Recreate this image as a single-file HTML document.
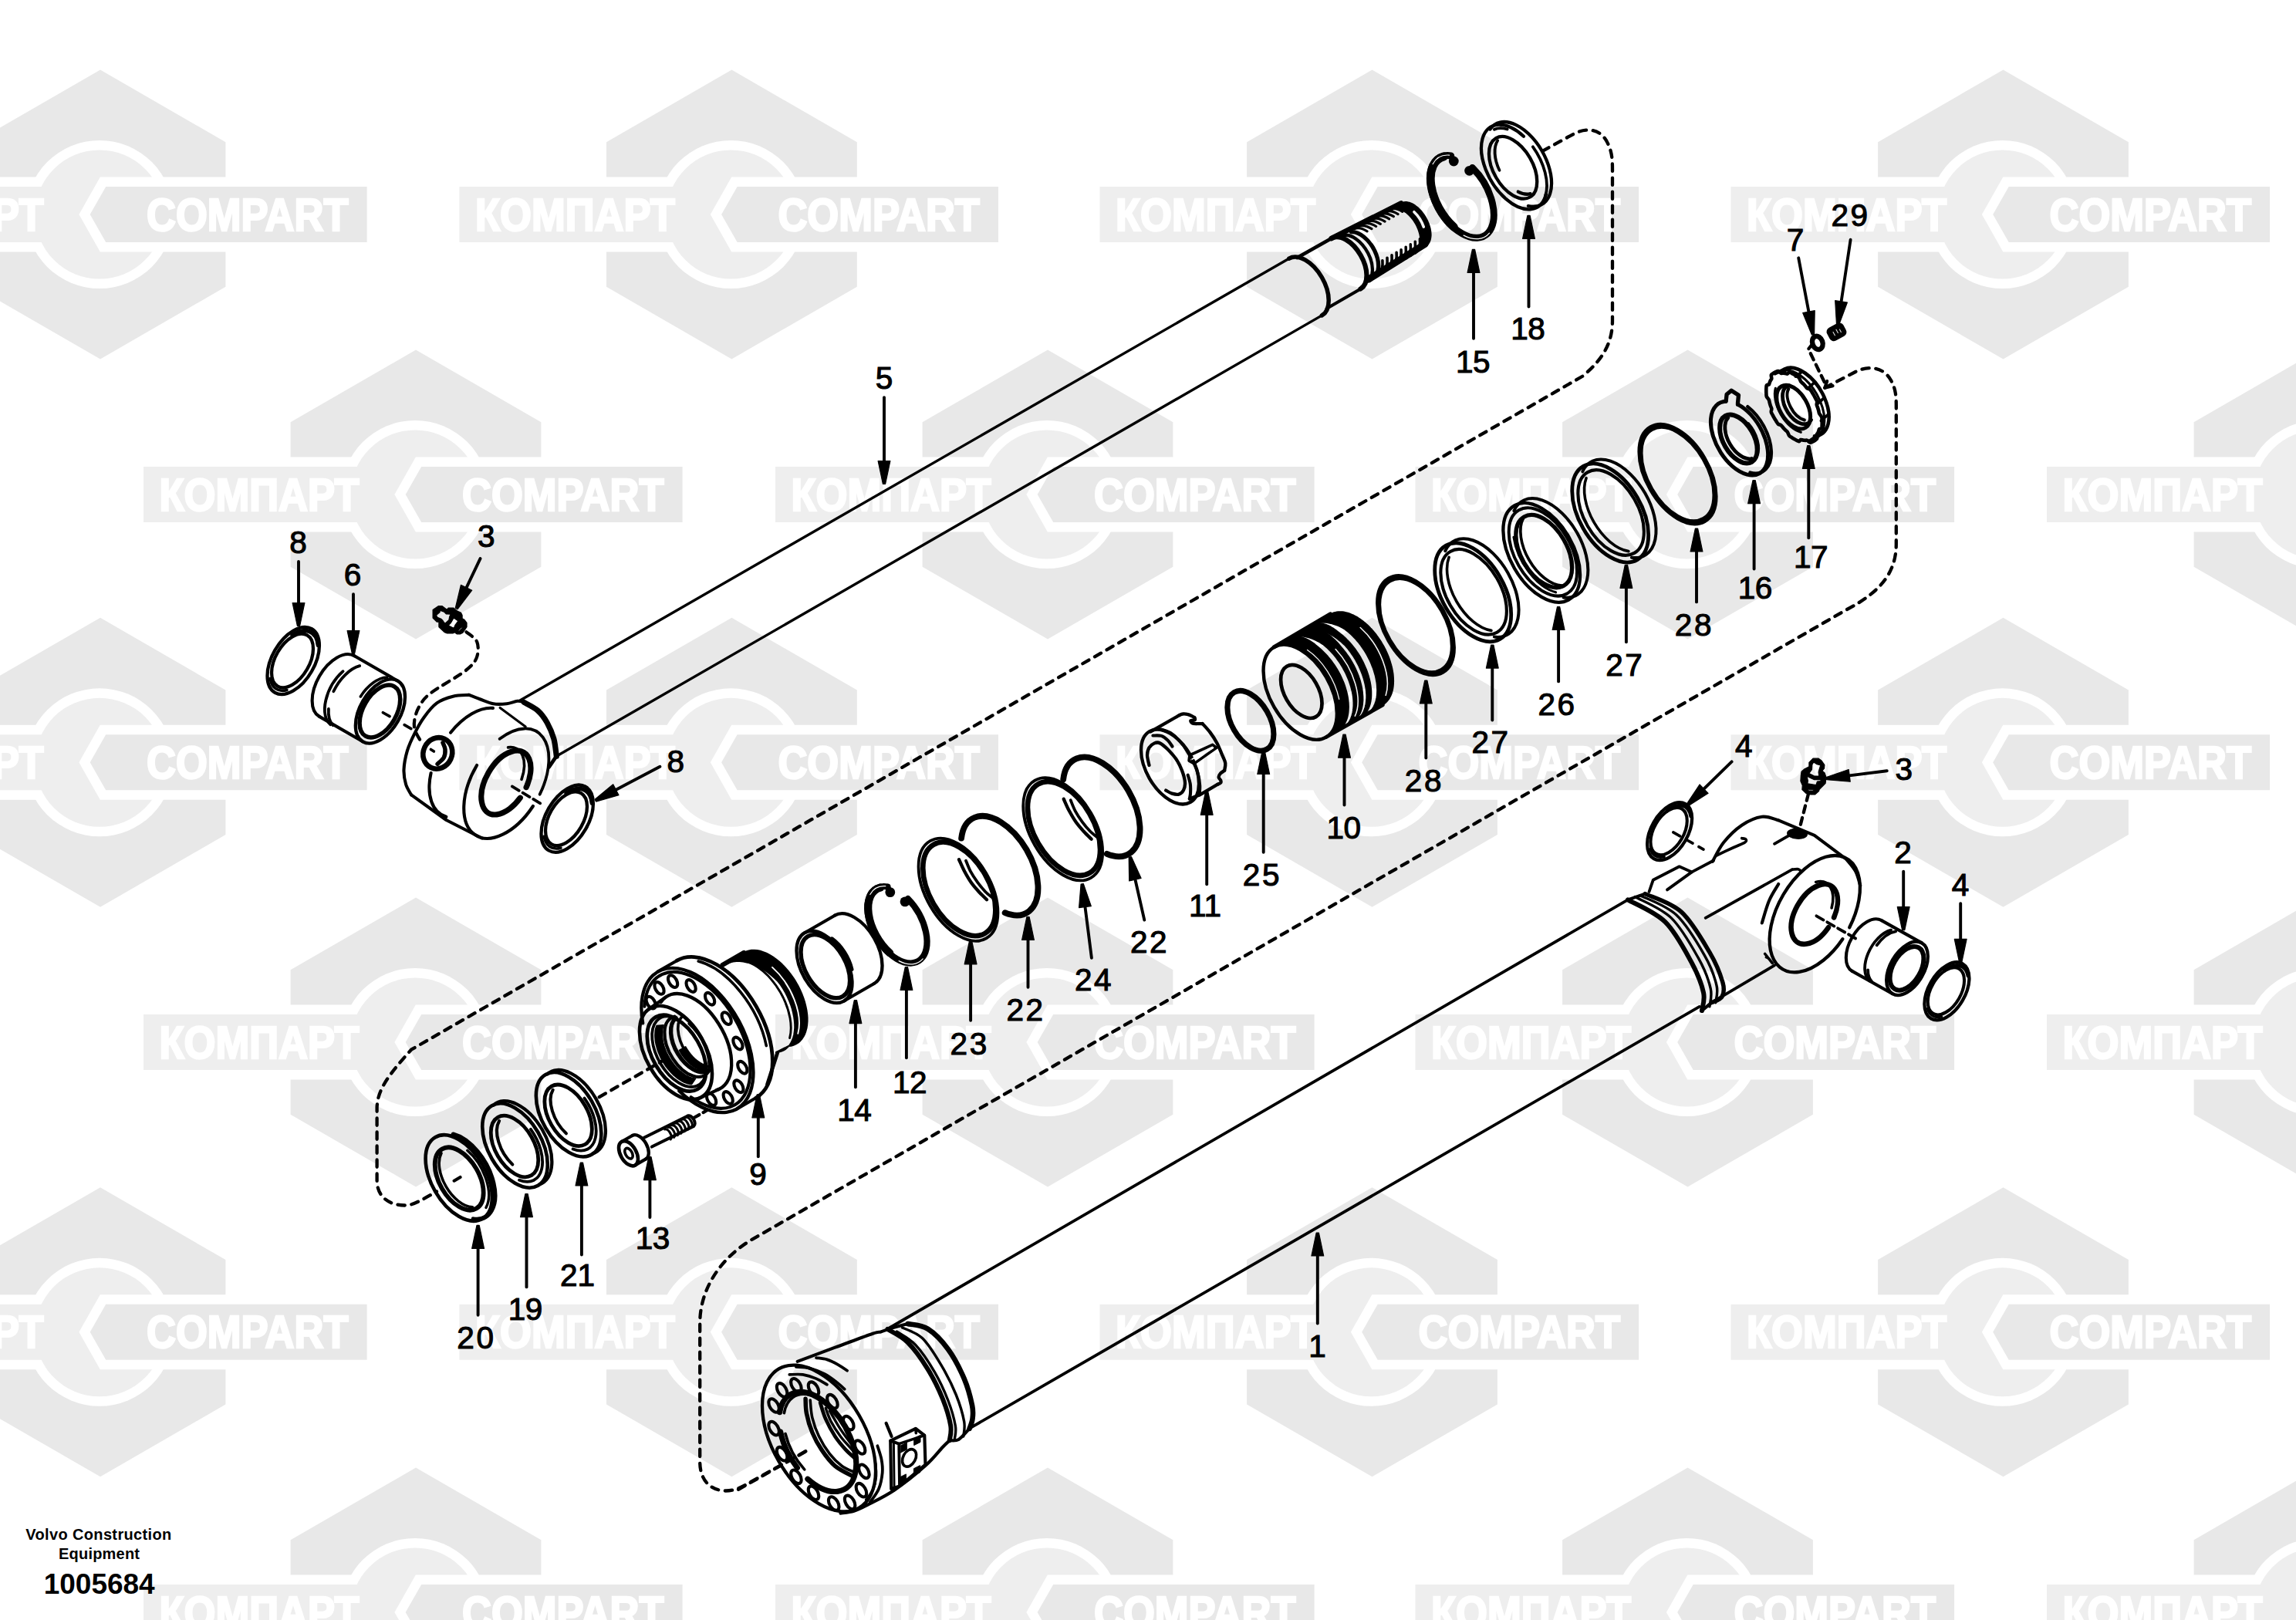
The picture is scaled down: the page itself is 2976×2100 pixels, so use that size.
<!DOCTYPE html>
<html><head><meta charset="utf-8"><title>1005684</title>
<style>
html,body{margin:0;padding:0;background:#fff}
svg{display:block}
.lb{font-family:"Liberation Sans",sans-serif;text-anchor:middle;fill:#000;stroke:#000;stroke-width:1.1px}
.wt{font-family:"Liberation Sans",sans-serif;font-weight:bold;font-size:58.5px;fill:#fff;stroke:#fff;stroke-width:2.6px;stroke-linejoin:miter}
.vt{font-family:"Liberation Sans",sans-serif;font-weight:bold;fill:#000;text-anchor:middle}
#dr path,#dr ellipse{fill:none;stroke:#000;stroke-linecap:round;stroke-linejoin:round}
</style></head><body>
<svg width="2976" height="2100" viewBox="0 0 2976 2100">
<defs>
<g id="wm">
<polygon points="0,-187.5 162.4,-93.75 162.4,93.75 0,187.5 -162.4,93.75 -162.4,-93.75" fill="#e8e8e8"/>
<circle cx="-1" cy="0" r="96" fill="#fff"/>
<rect x="-366" y="-48.5" width="366" height="97" fill="#fff"/>
<circle cx="-1" cy="0" r="83.5" fill="#eee"/>
<rect x="-353" y="-36" width="353" height="72" fill="#eee"/>
<polygon points="-27.6,0 -0.2,-48.5 360,-48.5 360,48.5 -0.2,48.5" fill="#fff"/>
<polygon points="-13.3,0 7.2,-36 345.6,-36 345.6,36 7.2,36" fill="#e8e8e8"/>
<text class="wt" x="-332.5" y="20.5" textLength="259" lengthAdjust="spacingAndGlyphs">КОМПАРТ</text>
<text class="wt" x="60" y="20.5" textLength="261.5" lengthAdjust="spacingAndGlyphs">COMPART</text>
</g>
</defs>
<rect width="2976" height="2100" fill="#fff"/>
<g id="wmk">
<use href="#wm" x="130" y="278"/>
<use href="#wm" x="948.4" y="278"/>
<use href="#wm" x="1778.5" y="278"/>
<use href="#wm" x="2596.5" y="278"/>
<use href="#wm" x="539" y="641"/>
<use href="#wm" x="1358" y="641"/>
<use href="#wm" x="2187.5" y="641"/>
<use href="#wm" x="3006" y="641"/>
<use href="#wm" x="130" y="988.3"/>
<use href="#wm" x="948.4" y="988.3"/>
<use href="#wm" x="1778.5" y="988.3"/>
<use href="#wm" x="2596.5" y="988.3"/>
<use href="#wm" x="539" y="1351"/>
<use href="#wm" x="1358" y="1351"/>
<use href="#wm" x="2187.5" y="1351"/>
<use href="#wm" x="3006" y="1351"/>
<use href="#wm" x="130" y="1726.8"/>
<use href="#wm" x="948.4" y="1726.8"/>
<use href="#wm" x="1778.5" y="1726.8"/>
<use href="#wm" x="2596.5" y="1726.8"/>
<use href="#wm" x="539" y="2090"/>
<use href="#wm" x="1358" y="2090"/>
<use href="#wm" x="2187.5" y="2090"/>
<use href="#wm" x="3006" y="2090"/>
</g>
<g id="dr">
<path d="M1999.3 195.8L2040 173.5C2058 164 2076 168 2084 186C2089 196 2090 205 2090 220L2090 415C2090 440 2082 462 2051.6 487.5L533 1360.7C505 1392 489 1412 488.6 1436L488.6 1530C488.6 1552 505 1562.5 525 1562.5C535 1562.5 545 1556.5 566 1544.6" stroke-width="4.3" stroke-dasharray="9.3 8.7"/>
<path d="M588.6 1530.7L596.6 1526" stroke-width="4.1"/>
<path d="M776.7 1422.1L866 1371" stroke-width="4.3" stroke-dasharray="9.5 8.5"/>
<path d="M2365.2 502.8L2405 482C2425 472 2443 478 2451 493C2456 502 2457.8 510 2457.8 525L2457.8 705C2457.8 740 2440 766 2394 790L975 1606.6C935 1630 907.2 1670 907.2 1715L907.2 1895C907.2 1920 922 1932.5 941 1932.5C950 1932.5 958 1929.5 967 1924.5L1051 1877.5" stroke-width="4.3" stroke-dasharray="9.3 8.7"/>
<path d="M2368.2 494L2365.2 502.8L2375.6 500.2" stroke-width="4.1"/>
<path d="M2350 445L2344 452.5L2367 500" stroke-width="4.3" stroke-dasharray="9 7"/>
<path d="M674 908L1671.5 334.8" stroke-width="3.4"/>
<path d="M721.3 980.2L1713.4 408.9" stroke-width="3.4"/>
<path d="M1713.4 408.9A42.6 24.6 60 0 0 1713.4 359.7A42.6 24.6 60 0 0 1670.8 335.1" stroke-width="5.5"/>
<path d="M1681.5 334L1725.8 308.9" stroke-width="4.6"/>
<path d="M1719.5 400L1763.6 374.4" stroke-width="4.1"/>
<path d="M1763.6 374.4A37.8 21.8 60 0 0 1763.6 330.7A37.8 21.8 60 0 0 1725.8 308.9" stroke-width="6.2"/>
<path d="M1772 364.9A33.8 19.5 60 0 0 1773.1 328A33.8 19.5 60 0 0 1740.7 305.3" stroke-width="4.3"/>
<path d="M1779.8 359.9A33.4 19.3 60 0 0 1781.8 325.2A33.4 19.3 60 0 0 1751.3 300.6" stroke-width="5.3"/>
<path d="M1725.8 308.9L1816 263.5" stroke-width="6.7"/>
<path d="M1773.8 362.1L1847 316.5" stroke-width="9"/>
<path d="M1845.6 320L1847 319.5L1848.3 318.8L1849.5 317.9L1850.6 316.8L1851.6 315.6L1852.4 314.3L1853.1 312.7L1853.7 311.1L1854.1 309.3L1854.4 307.4L1854.6 305.4L1854.6 303.3L1854.4 301.1L1854.1 298.9L1853.7 296.6L1853.1 294.3L1852.4 292L1851.6 289.6L1850.6 287.3L1849.5 285L1848.3 282.7L1847 280.5L1845.6 278.3L1844.1 276.3L1842.6 274.3L1840.9 272.5L1839.2 270.7L1837.5 269.1L1835.7 267.7L1833.9 266.4L1832.1 265.2L1830.3 264.2L1828.5 263.4L1826.7 262.8L1825 262.4L1823.3 262.1L1821.6 262L1820 262.2L1818.5 262.5L1817.1 263L1804.4 270.9L1805.8 270.4L1807.2 270.1L1808.8 270L1810.4 270.1L1812.1 270.3L1813.8 270.8L1815.6 271.4L1817.3 272.2L1819.1 273.1L1820.9 274.3L1822.7 275.5L1824.4 277L1826.1 278.6L1827.8 280.3L1829.4 282.1L1831 284L1832.4 286L1833.8 288.2L1835.1 290.3L1836.3 292.6L1837.3 294.8L1838.3 297.1L1839.1 299.4L1839.8 301.7L1840.4 304L1840.8 306.3L1841.1 308.5L1841.2 310.6L1841.2 312.7L1841.1 314.7L1840.8 316.5L1840.4 318.3L1839.8 319.9L1839.1 321.4L1838.3 322.7L1837.3 323.9L1836.2 325L1835 325.8L1833.8 326.5L1832.4 327Z" style="fill:#000" stroke-width="2"/>
<path d="M1845.3 294.1A29.5 17 60 0 0 1832.9 274.7" stroke-width="3.6" style="stroke:#f4f4f4"/>
<path d="M1772.1 299.8A33.6 19.4 60 0 0 1755.3 296.8" stroke-width="3.2"/>
<path d="M1777.9 296.6A33.5 19.3 60 0 0 1761.1 293.6" stroke-width="3.2"/>
<path d="M1783.6 293.5A33.3 19.2 60 0 0 1766.9 290.5" stroke-width="3.2"/>
<path d="M1789.3 290.3A33.1 19.1 60 0 0 1772.7 287.3" stroke-width="3.2"/>
<path d="M1795 287.1A33 19 60 0 0 1778.5 284.1" stroke-width="3.2"/>
<path d="M1800.7 283.9A32.9 19 60 0 0 1784.2 281" stroke-width="3.2"/>
<path d="M1806.4 280.7A32.7 18.9 60 0 0 1790 277.8" stroke-width="3.2"/>
<path d="M1812.1 277.6A32.6 18.8 60 0 0 1795.8 274.6" stroke-width="3.2"/>
<path d="M1817.8 274.4A32.4 18.7 60 0 0 1801.6 271.5" stroke-width="3.2"/>
<path d="M1786.1 355.8A33 19 60 0 0 1791.9 337.8" stroke-width="3.6"/>
<path d="M1792.1 352.3A33 19 60 0 0 1798 334.3" stroke-width="3.6"/>
<path d="M1798.2 348.8A33 19 60 0 0 1804 330.8" stroke-width="3.6"/>
<path d="M1804.3 345.3A33 19 60 0 0 1810.1 327.3" stroke-width="3.6"/>
<path d="M1810.3 341.8A33 19 60 0 0 1816.1 323.8" stroke-width="3.6"/>
<path d="M1816.4 338.3A33 19 60 0 0 1822.2 320.3" stroke-width="3.6"/>
<path d="M1822.5 334.8A33 19 60 0 0 1828.3 316.8" stroke-width="3.6"/>
<path d="M1828.5 331.3A33 19 60 0 0 1834.3 313.3" stroke-width="3.6"/>
<path d="M1834.6 327.8A33 19 60 0 0 1840.4 309.8" stroke-width="3.6"/>
<path d="M690.9 1045A77.9 44.9 -60 0 1 615 1081.6A77.9 44.9 -60 0 1 618.1 992" stroke-width="4.1"/>
<path d="M647.7 957.8A77.9 44.9 -60 0 1 703.8 955.9A77.9 44.9 -60 0 1 699.7 1029.7" stroke-width="3.8"/>
<path d="M674.3 1034.2A45.3 26.1 -60 0 1 624.5 1040.1A45.3 26.1 -60 0 1 662.4 974.5A45.3 26.1 -60 0 1 682.1 1020.6" stroke-width="7.2"/>
<path d="M658.5 968.9A45.3 26.1 -60 0 1 676 1010.3" stroke-width="3.6"/>
<path d="M584 949.7A77.9 44.9 -60 0 1 639 917.9" stroke-width="4.1"/>
<path d="M578.3 1058.8A77.9 44.9 -60 0 1 558.6 1002" stroke-width="4.1"/>
<path d="M608 900.9C604.5 901.2 594.1 900.9 587.1 902.7C580.1 904.4 572.4 906.9 566.2 911.4C560 915.9 554.4 923.2 549.7 929.7C544.9 936.2 541.1 943.3 537.5 950.6C533.8 957.9 530.2 965.4 527.9 973.2C525.6 981.1 523.8 990.4 523.5 997.6C523.2 1004.9 524.5 1011.3 526.1 1016.8C527.7 1022.3 531.9 1028.1 533.1 1030.4" stroke-width="4.1"/>
<path d="M533.1 1030.4L578.4 1063L624.6 1086.5" stroke-width="4.1"/>
<path d="M608 900.9C610.3 901.8 616.7 904.3 622 906.2C627.2 908.1 633.6 911.2 639.4 912.3C645.2 913.3 651.6 912.8 656.8 912.3C662 911.7 667 909.1 670.7 908.8C674.5 908.5 678 910.2 679.4 910.5" stroke-width="4.1"/>
<path d="M679.4 910.5C682.3 912.3 691.9 916.6 696.9 921C701.8 925.3 705.6 930.6 709.1 936.7C712.5 942.8 715.7 950.3 717.8 957.6C719.8 964.8 720.7 976.4 721.3 980.2" stroke-width="7.2"/>
<path d="M721.3 980.2L711.7 994.1" stroke-width="4.8"/>
<path d="M648.1 917.5L681.2 941.9" stroke-width="3.1"/>
<ellipse cx="567.3" cy="976.4" rx="18.6" ry="20.6" transform="rotate(25 567.3 976.4)" stroke-width="6.6"/>
<path d="M574 962.8C574.5 964.2 576.8 968.3 577 971.5C577.2 974.7 576.9 978.8 575.3 982C573.6 985.1 568.4 988.9 567.1 990.3" stroke-width="5.5"/>
<path d="M558.4 971.5L562.4 974.1" stroke-width="3.6"/>
<path d="M663.8 1019.4L703.5 1043.3" stroke-width="3.8" stroke-dasharray="10.5 5.5"/>
<ellipse cx="735.2" cy="1061.2" rx="47.7" ry="27.5" transform="rotate(-60 735.2 1061.2)" stroke-width="4.3"/>
<ellipse cx="734" cy="1061.2" rx="38.2" ry="22" transform="rotate(-60 734 1061.2)" stroke-width="4.3"/>
<path d="M734 1028.2A43.5 25.1 -60 0 1 767.3 1041.2" stroke-width="5.4"/>
<path d="M726.9 1099.2A42.5 24.5 -60 0 1 705.1 1084.3" stroke-width="3.6"/>
<ellipse cx="492.9" cy="922" rx="45.4" ry="26.2" transform="rotate(-60 492.9 922)" stroke-width="4.3"/>
<ellipse cx="492.4" cy="922" rx="37.2" ry="21.5" transform="rotate(-60 492.4 922)" stroke-width="5.5"/>
<path d="M414 928.9A45.4 26.2 -60 0 1 414 876.5A45.4 26.2 -60 0 1 459.4 850.3" stroke-width="4.1"/>
<path d="M459.4 850.3L515.6 882.7" stroke-width="4.1"/>
<path d="M414 928.9L470.2 961.3" stroke-width="4.1"/>
<path d="M428.3 939.2A45.4 26.2 -60 0 1 444.6 870.2" stroke-width="3.8"/>
<path d="M431.6 940.2A45.4 26.2 -60 0 1 425.9 919" stroke-width="3.8"/>
<path d="M432.3 896.3A45.4 26.2 -60 0 1 466.2 863.2" stroke-width="3.8"/>
<path d="M467.3 902.9A45.4 26.2 -60 0 1 501.5 878" stroke-width="3.6"/>
<path d="M496.4 923.7L537 947" stroke-width="3.6" stroke-dasharray="10 22"/>
<ellipse cx="380.2" cy="856.5" rx="47.7" ry="27.5" transform="rotate(-60 380.2 856.5)" stroke-width="4.3"/>
<ellipse cx="379" cy="856.5" rx="38.2" ry="22" transform="rotate(-60 379 856.5)" stroke-width="4.3"/>
<path d="M379 823.5A43.5 25.1 -60 0 1 412.3 836.5" stroke-width="5.4"/>
<path d="M371.9 894.5A42.5 24.5 -60 0 1 350.1 879.6" stroke-width="3.6"/>
<path d="M561.1 790.4L568.1 785.7L573.2 785.7L579.5 790.4L581.1 788L587.7 788L593.2 792.4L597.5 794.3L599.1 797.5L599.1 801.8L601.9 803.3L605 807.3L605 812.7L599.9 820.2L596.8 821.8L592.1 821.8L589.3 819.8L587 821L579.5 821L576.4 819.8L568.9 812.7L568.9 806.1L566.2 806.1L561.1 801ZM570.1 791.2L575.6 793.1L578.3 795.9L584.2 796.1L582.6 799.8L581.9 803.7L578.3 806.9L576.4 808L574 804.5L571.7 802.2L567 800.2L565.4 797.5L570.1 793.5ZM588.1 801L594 804.9L590.1 810L588.5 813.9L587 813.9L581.1 810.8L584.2 807.6ZM593.2 817.8L599.1 812L599.1 814.3L595.2 818.2Z" style="fill:#000;fill-rule:evenodd" stroke-width="1.2"/>
<path d="M604.4 819.2C606.7 821.4 616.1 826.6 618.3 832.3C620.5 837.9 620.2 846.8 617.5 853.2C614.7 859.6 611.6 863 601.8 870.6C591.9 878.1 568 890.9 558.2 898.5C548.5 906 546.9 910.1 543.4 915.9C539.9 921.7 538.2 928.1 537.3 933.3C536.4 938.5 536.4 942 538.2 947.2C539.9 952.5 546.2 961.8 547.8 964.7" stroke-width="4.2" stroke-dasharray="9.5 8"/>
<path d="M1150 1723L2110 1166.4" stroke-width="3.8"/>
<path d="M1256.6 1851.6L2202.8 1304.9" stroke-width="3.8"/>
<path d="M1974.9 176.7A60.1 34.7 60 0 0 1921.6 179.5A60.1 34.7 60 0 0 1952 257.9A60.1 34.7 60 0 0 2003.9 251.4" stroke-width="4.3"/>
<path d="M1981 267A60.1 34.7 60 0 0 2001.6 201.1A60.1 34.7 60 0 0 1931.4 167.6" stroke-width="4.3"/>
<path d="M2003.1 254.2A60.1 34.7 60 0 0 1986.9 190.3" stroke-width="3.8"/>
<path d="M1953.7 167.5A55.1 31.8 60 0 0 1936.9 167.7" stroke-width="3.8"/>
<ellipse cx="1961.1" cy="217.3" rx="44.1" ry="25.4" transform="rotate(60 1961.1 217.3)" stroke-width="4.3"/>
<path d="M1941.2 182.2A42 24.2 60 0 0 1943.5 220.7" stroke-width="3.8"/>
<path d="M1967.8 248.6A41 23.7 60 0 0 1983.7 251.1" stroke-width="4.3"/>
<path d="M1880.7 201.9A58.5 33.8 60 0 0 1861.9 264.6A58.5 33.8 60 0 0 1928.4 302.3A58.5 33.8 60 0 0 1908.4 217.5" stroke-width="8.9"/>
<path d="M1871.6 203A57.5 33.2 60 0 0 1854.9 239.9A57.5 33.2 60 0 0 1884.4 294.2" stroke-width="10.8"/>
<circle cx="1884.3" cy="209" r="6.4" style="fill:#000" stroke-width="1"/>
<circle cx="1904.6" cy="221.3" r="6.4" style="fill:#000" stroke-width="1"/>
<path d="M1880.7 201.9L1884.3 209" stroke-width="7.7"/>
<path d="M1908.4 217.5L1904.6 221.3" stroke-width="7.7"/>
<path d="M1897.1 305.1A60 34.6 60 0 0 1930.5 302.1" stroke-width="1.2" style="stroke:#fff"/>
<path d="M1878.6 201.1A59 34 60 0 0 1857.1 212.7" stroke-width="1.2" style="stroke:#fff"/>
<path d="M2351.1 571.7C2351.9 571.2 2352.6 570.8 2353.3 570.2C2353.9 569.7 2354.9 569.5 2355.2 568.4C2355.4 567.3 2354.6 564.9 2354.7 563.7C2354.9 562.5 2355.7 562.2 2356.1 561.5C2356.5 560.7 2356.9 559.8 2357.2 559C2357.6 558.1 2357.5 556.9 2358.1 556.2C2358.8 555.6 2360.6 555.9 2361.2 555.2C2361.7 554.4 2361.5 552.9 2361.6 551.8C2361.7 550.6 2361.7 549.4 2361.7 548.2C2361.7 547 2361.7 545.8 2361.6 544.5C2361.5 543.2 2361.7 542 2361.2 540.6C2360.6 539.2 2358.8 537.4 2358.1 536C2357.5 534.7 2357.6 533.6 2357.2 532.3C2356.9 531 2356.5 529.8 2356.1 528.5C2355.7 527.2 2354.9 526 2354.7 524.7C2354.6 523.4 2355.4 521.8 2355.2 520.4C2354.9 519.1 2353.9 517.8 2353.2 516.4C2352.6 515.1 2351.8 513.8 2351.1 512.5C2350.4 511.2 2349.6 510 2348.8 508.7C2348 507.5 2347.3 505.9 2346.3 505C2345.2 504.1 2343.5 504.1 2342.4 503.3C2341.3 502.5 2340.7 501.2 2339.8 500.2C2338.9 499.2 2338 498.2 2337 497.3C2336.1 496.4 2335.1 495.9 2334.2 494.7C2333.4 493.4 2332.7 490.9 2331.8 489.7C2330.8 488.5 2329.7 488.2 2328.6 487.5C2327.6 486.7 2326.5 486.1 2325.5 485.5C2324.4 484.9 2323.4 484.3 2322.3 483.8C2321.3 483.3 2320.1 482.3 2319.2 482.5C2318.3 482.6 2317.6 484.3 2316.8 484.6C2315.9 484.8 2314.9 484.1 2313.9 484C2313 483.8 2312.1 483.7 2311.2 483.7C2310.3 483.7 2309.7 484.2 2308.6 483.8C2307.5 483.3 2305.8 481.4 2304.7 481C2303.7 480.7 2303 481.5 2302.2 481.8C2301.4 482.1 2300.6 482.5 2299.9 482.9C2299.1 483.4 2298.4 483.8 2297.7 484.4C2297.1 484.9 2296.1 485.1 2295.8 486.2C2295.6 487.3 2296.4 489.7 2296.3 490.9C2296.1 492.1 2295.3 492.4 2294.9 493.1C2294.5 493.9 2294.1 494.8 2293.8 495.6C2293.4 496.5 2293.5 497.7 2292.9 498.4C2292.2 499 2290.4 498.7 2289.8 499.4C2289.3 500.2 2289.5 501.7 2289.4 502.8C2289.3 504 2289.3 505.2 2289.3 506.4C2289.3 507.6 2289.3 508.8 2289.4 510.1C2289.5 511.4 2289.3 512.6 2289.8 514C2290.4 515.4 2292.2 517.2 2292.9 518.6C2293.5 519.9 2293.4 521 2293.8 522.3C2294.1 523.6 2294.5 524.8 2294.9 526.1C2295.3 527.4 2296.1 528.6 2296.3 529.9C2296.4 531.2 2295.6 532.8 2295.8 534.2C2296.1 535.5 2297.1 536.8 2297.8 538.2C2298.4 539.5 2299.2 540.8 2299.9 542.1C2300.6 543.4 2301.4 544.6 2302.2 545.9C2303 547.1 2303.7 548.7 2304.7 549.6C2305.8 550.5 2307.5 550.5 2308.6 551.3C2309.7 552.1 2310.3 553.4 2311.2 554.4C2312.1 555.4 2313 556.4 2314 557.3C2314.9 558.2 2315.9 558.7 2316.8 559.9C2317.6 561.2 2318.3 563.7 2319.2 564.9C2320.2 566.1 2321.3 566.4 2322.4 567.1C2323.4 567.9 2324.5 568.5 2325.5 569.1C2326.6 569.7 2327.6 570.3 2328.7 570.8C2329.7 571.3 2330.9 572.3 2331.8 572.1C2332.7 572 2333.4 570.3 2334.2 570C2335.1 569.8 2336.1 570.5 2337.1 570.6C2338 570.8 2338.9 570.9 2339.8 570.9C2340.7 570.9 2341.3 570.4 2342.4 570.8C2343.5 571.3 2345.2 573.2 2346.3 573.6C2347.3 573.9 2348 573.1 2348.8 572.8C2349.6 572.5 2350.4 572.1 2351.1 571.7Z" stroke-width="4.6"/>
<path d="M2351.9 565.3A48.5 28 60 0 0 2364.4 514.6A48.5 28 60 0 0 2312.9 478.6" stroke-width="4.6"/>
<path d="M2300.8 484.4L2312.1 479" stroke-width="4.3"/>
<path d="M2344.6 572.2L2355 565" stroke-width="4.3"/>
<path d="M2357.2 562.7L2368.1 554.2" stroke-width="3.8"/>
<path d="M2360.4 545.4L2370.4 536.6" stroke-width="3.8"/>
<path d="M2355.5 523.8L2364.7 515.3" stroke-width="3.8"/>
<path d="M2343.5 503.1L2352.4 495.4" stroke-width="3.8"/>
<path d="M2327.3 488L2336.3 481.5" stroke-width="3.8"/>
<path d="M2310.7 482.1L2320.2 476.8" stroke-width="3.8"/>
<path d="M2356.6 566.3A49.5 28.6 60 0 0 2355.6 512.4A49.5 28.6 60 0 0 2309.8 480.1" stroke-width="3.1"/>
<ellipse cx="2324.7" cy="527.6" rx="31" ry="17.9" transform="rotate(60 2324.7 527.6)" stroke-width="5"/>
<path d="M2318.7 499.8A27.5 15.9 60 0 0 2317.4 534.6A27.5 15.9 60 0 0 2347.5 544.3" stroke-width="4.8"/>
<path d="M2318.2 504.2A25 14.4 60 0 0 2320.7 527.4A25 14.4 60 0 0 2338.8 544.5" stroke-width="4.1"/>
<path d="M2301.3 503.3A38 21.9 60 0 0 2334.2 560.3" stroke-width="3.1"/>
<ellipse cx="2355.8" cy="444.4" rx="6.6" ry="8.8" transform="rotate(-20 2355.8 444.4)" stroke-width="6.4"/>
<g transform="translate(2380.5 430.3) rotate(-28)">
<rect x="-12" y="-9.5" width="24" height="19" rx="6" style="fill:#000" stroke-width="3"/>
<path d="M-4 -2L-4 3M1 -3L1 2M5 -1L5 3" stroke-width="1.1" style="stroke:#ddd"/>
</g>
<path d="M2237.1 520.2A52.5 30.3 60 0 0 2230.5 586.9A52.5 30.3 60 0 0 2289.7 602.1A52.5 30.3 60 0 0 2252.5 524.2" stroke-width="5"/>
<path d="M2237.1 520.2L2238.1 511.2L2244.1 506.2L2253.5 512.2L2252.5 522.2L2252.5 524.2" stroke-width="5.3"/>
<path d="M2268.4 612.5A52.5 30.3 60 0 0 2295.9 585.1A52.5 30.3 60 0 0 2265.3 527.1" stroke-width="4.3"/>
<ellipse cx="2253.4" cy="569" rx="34.4" ry="19.8" transform="rotate(60 2253.4 569)" stroke-width="6"/>
<path d="M2239.8 541.6A31 17.9 60 0 0 2242.2 575.4A31 17.9 60 0 0 2270.3 594.5" stroke-width="4.8"/>
<path d="M2277.1 591.1A33 19 60 0 0 2265.9 548.8" stroke-width="3.6"/>
<ellipse cx="2174.5" cy="614.6" rx="70.6" ry="40.7" transform="rotate(60 2174.5 614.6)" stroke-width="4.4"/>
<ellipse cx="2174.5" cy="614.6" rx="66.2" ry="38.2" transform="rotate(60 2174.5 614.6)" stroke-width="3.7"/>
<path d="M2170.3 556.5A68.4 39.5 60 0 0 2134.9 623.7" stroke-width="4.1"/>
<path d="M2191.1 676.6A68.4 39.5 60 0 0 2221.2 627.1" stroke-width="4.1"/>
<ellipse cx="2087.2" cy="665" rx="70" ry="40.4" transform="rotate(60 2087.2 665)" stroke-width="4.8"/>
<path d="M2114.9 722.8A70 40.4 60 0 0 2132.4 639.6A70 40.4 60 0 0 2051.3 611.3" stroke-width="4"/>
<ellipse cx="2088.1" cy="664.5" rx="60.5" ry="34.9" transform="rotate(60 2088.1 664.5)" stroke-width="4.1"/>
<path d="M2056.1 619.6A60.5 34.9 60 0 0 2066.1 677.2A60.5 34.9 60 0 0 2110.9 714.6" stroke-width="3.6"/>
<ellipse cx="1998.2" cy="716.4" rx="70.5" ry="40.7" transform="rotate(60 1998.2 716.4)" stroke-width="4.3"/>
<path d="M2026.5 774.4A70.5 40.7 60 0 0 2044.1 690.6A70.5 40.7 60 0 0 1962.4 662.1" stroke-width="4"/>
<ellipse cx="1999.9" cy="715.4" rx="62.5" ry="36.1" transform="rotate(60 1999.9 715.4)" stroke-width="4"/>
<ellipse cx="2001.2" cy="714.6" rx="51.5" ry="29.7" transform="rotate(60 2001.2 714.6)" stroke-width="5.3"/>
<path d="M1974.3 672.1A53.5 30.9 60 0 0 1981.9 725.8A53.5 30.9 60 0 0 2024.6 759.2" stroke-width="3.7"/>
<path d="M1962 696.2A62 35.8 60 0 0 2016.5 767.8" stroke-width="3.1"/>
<ellipse cx="1909.2" cy="767.8" rx="70" ry="40.4" transform="rotate(60 1909.2 767.8)" stroke-width="4.8"/>
<path d="M1936.9 825.6A70 40.4 60 0 0 1954.4 742.4A70 40.4 60 0 0 1873.3 714.1" stroke-width="4"/>
<ellipse cx="1910.1" cy="767.3" rx="60.5" ry="34.9" transform="rotate(60 1910.1 767.3)" stroke-width="4.1"/>
<path d="M1878.1 722.4A60.5 34.9 60 0 0 1888.1 780A60.5 34.9 60 0 0 1932.9 817.4" stroke-width="3.6"/>
<ellipse cx="1835" cy="810.6" rx="70.4" ry="40.6" transform="rotate(60 1835 810.6)" stroke-width="4.4"/>
<ellipse cx="1835" cy="810.6" rx="66" ry="38.1" transform="rotate(60 1835 810.6)" stroke-width="3.7"/>
<path d="M1830.8 752.7A68.2 39.4 60 0 0 1795.5 819.8" stroke-width="4.1"/>
<path d="M1851.5 872.5A68.2 39.4 60 0 0 1881.6 823.1" stroke-width="4.1"/>
<ellipse cx="1685.2" cy="897.2" rx="67.4" ry="38.9" transform="rotate(60 1685.2 897.2)" stroke-width="4.4"/>
<ellipse cx="1686.8" cy="896.4" rx="37.8" ry="21.8" transform="rotate(60 1686.8 896.4)" stroke-width="4.7"/>
<path d="M1651.5 838.8L1724.3 796.1" stroke-width="5.3"/>
<path d="M1718.9 955.5L1792.3 913.9" stroke-width="4.8"/>
<path d="M1731 948.8L1732.5 948.2L1734 947.4L1735.5 946.5L1736.9 945.4L1738.2 944.3L1739.4 943.1L1740.6 941.7L1741.7 940.3L1742.7 938.8L1743.6 937.1L1744.4 935.4L1745.2 933.6L1745.9 931.7L1746.5 929.7L1747 927.6L1747.4 925.5L1747.7 923.3L1747.9 921L1748 918.7L1748.1 916.3L1748 913.8L1747.9 911.4L1747.7 908.8L1747.4 906.2L1747 903.6L1746.5 901L1745.9 898.3L1745.2 895.7L1744.4 893L1743.6 890.3L1742.7 887.6L1741.7 884.9L1740.6 882.2L1739.4 879.5L1738.2 876.8L1736.9 874.2L1735.5 871.6L1734 869L1732.5 866.4L1730.9 863.9L1729.3 861.5L1727.6 859.1L1725.9 856.7L1724.1 854.4L1722.2 852.2L1720.4 850L1718.5 848L1716.5 846L1714.5 844L1712.5 842.2L1710.5 840.4L1708.5 838.7L1706.6 837.1L1704.7 835.5L1702.8 834L1700.9 832.7L1699 831.4L1697.1 830.2L1695.2 829.2L1693.3 828.3L1691.4 827.4L1689.6 826.7L1687.8 826.1L1686 825.7L1684.2 825.3L1682.5 825.1L1680.8 824.9L1679.1 824.9L1677.4 825.1L1675.7 825.5L1674 825.9L1672.3 826.5L1670.8 827.2L1669.3 828L1667.8 828.9L1666.4 829.9L1649.3 839.8L1650.7 838.8L1652.1 837.9L1653.6 837.1L1655.2 836.4L1656.8 835.8L1658.5 835.4L1660.3 835L1662.1 834.8L1663.9 834.7L1665.8 834.7L1667.7 834.8L1669.6 835.1L1671.6 835.5L1673.6 835.9L1675.7 836.5L1677.7 837.3L1679.8 838.1L1681.9 839L1684 840.1L1686.1 841.2L1688.1 842.5L1690.2 843.9L1692.3 845.3L1694.4 846.9L1696.4 848.5L1698.5 850.3L1700.5 852.1L1702.5 854.1L1704.4 856.1L1706.3 858.1L1708.2 860.3L1710.1 862.5L1711.8 864.8L1713.6 867.2L1715.3 869.6L1716.9 872L1718.5 874.5L1720 877.1L1721.4 879.7L1722.8 882.3L1724.1 884.9L1725.4 887.6L1726.5 890.3L1727.6 893L1728.6 895.7L1729.6 898.4L1730.4 901.1L1731.2 903.8L1731.8 906.4L1732.4 909.1L1732.9 911.7L1733.3 914.3L1733.7 916.9L1733.9 919.5L1734 921.9L1734.1 924.4L1734 926.8L1733.9 929.1L1733.7 931.4L1733.3 933.6L1732.9 935.7L1732.4 937.8L1731.8 939.8L1731.2 941.7L1730.4 943.5L1729.6 945.2L1728.6 946.9L1727.6 948.4L1726.6 949.8L1725.4 951.2L1724.2 952.4L1722.8 953.5L1721.5 954.6L1720 955.5L1718.5 956.3L1716.9 956.9Z" style="fill:#000" stroke-width="1.6"/>
<path d="M1749.5 938.1L1751.1 937.5L1752.6 936.7L1754 935.8L1755.4 934.7L1756.7 933.6L1758 932.4L1759.1 931L1760.2 929.6L1761.2 928.1L1762.1 926.4L1763 924.7L1763.7 922.9L1764.4 921L1765 919L1765.5 916.9L1765.9 914.8L1766.2 912.6L1766.4 910.3L1766.6 908L1766.6 905.6L1766.6 903.1L1766.4 900.7L1766.2 898.1L1765.9 895.5L1765.5 892.9L1765 890.3L1764.4 887.6L1763.7 885L1763 882.3L1762.1 879.6L1761.2 876.9L1760.2 874.2L1759.1 871.5L1757.9 868.8L1756.7 866.1L1755.4 863.5L1754 860.9L1752.6 858.3L1751 855.7L1749.5 853.2L1747.8 850.8L1746.1 848.4L1744.4 846L1742.6 843.7L1740.8 841.5L1738.9 839.3L1737.2 837.2L1735.4 835.1L1733.6 833L1731.7 831.1L1729.9 829.2L1728 827.5L1726.1 825.8L1724.2 824.2L1722.3 822.8L1720.4 821.4L1718.5 820.2L1716.5 819L1714.6 818L1712.5 817.2L1710.5 816.4L1708.4 815.8L1706.4 815.4L1704.5 815L1702.5 814.7L1700.6 814.6L1698.7 814.6L1696.9 814.7L1695.1 814.9L1693.3 815.3L1691.6 815.7L1690 816.3L1688.4 817L1686.9 817.8L1685.5 818.7L1684.1 819.7L1666.4 829.9L1667.8 828.9L1669.3 828L1670.8 827.2L1672.3 826.5L1674 825.9L1675.7 825.5L1677.4 825.1L1679.3 824.9L1681.3 824.6L1683.4 824.5L1685.5 824.6L1687.6 824.7L1689.8 825L1692 825.4L1694.2 825.9L1696.4 826.5L1698.7 827.2L1700.9 828L1703.2 829L1705.5 830L1707.8 831.2L1710.1 832.4L1712.3 833.8L1714.6 835.2L1716.7 836.8L1718.7 838.6L1720.8 840.4L1722.7 842.4L1724.7 844.4L1726.6 846.4L1728.5 848.6L1730.3 850.8L1732.1 853.1L1733.8 855.5L1735.5 857.9L1737.2 860.3L1738.7 862.8L1740.3 865.4L1741.7 868L1743.1 870.6L1744.4 873.2L1745.6 875.9L1746.8 878.6L1747.9 881.3L1748.9 884L1749.8 886.7L1750.7 889.4L1751.4 892.1L1752.1 894.7L1752.7 897.4L1753.2 900L1753.6 902.6L1753.9 905.2L1754.1 907.8L1754.3 910.2L1754.3 912.7L1754.3 915.1L1754.1 917.4L1753.9 919.7L1753.6 921.9L1753.2 924L1752.7 926.1L1752.1 928.1L1751.4 930L1750.7 931.8L1749.8 933.5L1748.9 935.2L1747.9 936.7L1746.8 938.1L1745.7 939.5L1744.4 940.7L1743.1 941.8L1741.7 942.9L1740.3 943.8L1738.8 944.6L1737.2 945.2Z" style="fill:#000" stroke-width="1.6"/>
<path d="M1760.4 931.8L1762 931.2L1763.5 930.4L1764.9 929.5L1766.3 928.4L1767.6 927.3L1768.9 926.1L1770 924.7L1771.1 923.3L1772.1 921.8L1773 920.1L1773.9 918.4L1774.6 916.6L1775.3 914.7L1775.9 912.7L1776.4 910.6L1776.8 908.5L1777.1 906.3L1777.4 904L1777.5 901.7L1777.5 899.3L1777.5 896.8L1777.4 894.4L1777.1 891.8L1776.8 889.2L1776.4 886.6L1775.9 884L1775.3 881.3L1774.6 878.7L1773.9 876L1773 873.3L1772.1 870.6L1771.1 867.9L1770 865.2L1768.8 862.5L1767.6 859.8L1766.3 857.2L1764.9 854.6L1763.5 852L1762 849.4L1760.4 846.9L1758.7 844.5L1757.1 842.1L1755.3 839.7L1753.5 837.4L1751.7 835.2L1749.8 833L1747.9 831L1745.9 829L1744 827L1741.9 825.2L1739.9 823.4L1737.9 821.8L1735.8 820.2L1733.8 818.7L1731.9 817.2L1730.1 815.8L1728.2 814.5L1726.3 813.4L1724.5 812.3L1722.6 811.3L1720.8 810.5L1719 809.8L1717.2 809.2L1715.4 808.7L1713.7 808.3L1712 808L1710.3 807.9L1708.7 807.9L1707.2 807.9L1705.6 808.2L1704 808.6L1702.4 809.1L1700.8 809.8L1699.3 810.6L1697.9 811.5L1696.5 812.5L1684.1 819.7L1685.5 818.7L1686.9 817.8L1688.4 817L1690 816.3L1691.6 815.7L1693.3 815.3L1695.1 814.9L1696.9 814.7L1698.7 814.6L1700.6 814.6L1702.5 814.7L1704.5 815L1706.4 815.4L1708.4 815.8L1710.5 816.4L1712.5 817.2L1714.6 818L1716.8 818.8L1719.1 819.8L1721.4 820.8L1723.6 822L1725.9 823.3L1728.2 824.6L1730.4 826.1L1732.6 827.7L1734.8 829.3L1737 831L1739.2 832.9L1741.3 834.8L1743.4 836.7L1745.3 838.9L1747.1 841.1L1748.9 843.4L1750.7 845.8L1752.3 848.2L1754 850.6L1755.5 853.1L1757.1 855.7L1758.5 858.3L1759.9 860.9L1761.2 863.5L1762.4 866.2L1763.6 868.9L1764.7 871.6L1765.7 874.3L1766.6 877L1767.5 879.7L1768.2 882.4L1768.9 885L1769.5 887.7L1770 890.3L1770.4 892.9L1770.7 895.5L1770.9 898.1L1771.1 900.5L1771.1 903L1771.1 905.4L1770.9 907.7L1770.7 910L1770.4 912.2L1770 914.3L1769.5 916.4L1768.9 918.4L1768.2 920.3L1767.5 922.1L1766.6 923.8L1765.7 925.5L1764.7 927L1763.6 928.4L1762.5 929.8L1761.2 931L1759.9 932.1L1758.5 933.2L1757.1 934.1L1755.6 934.9L1754 935.5Z" style="fill:#000" stroke-width="1.6"/>
<path d="M1789.2 915.2L1790.7 914.6L1792.2 913.8L1793.7 912.9L1795.1 911.8L1796.4 910.7L1797.6 909.5L1798.8 908.1L1799.9 906.7L1800.9 905.2L1801.8 903.5L1802.6 901.8L1803.4 900L1804.1 898.1L1804.7 896.1L1805.2 894L1805.6 891.9L1805.9 889.7L1806.1 887.4L1806.2 885.1L1806.3 882.7L1806.2 880.2L1806.1 877.8L1805.9 875.2L1805.6 872.6L1805.1 870L1804.7 867.4L1804.1 864.7L1803.4 862.1L1802.6 859.4L1801.8 856.7L1800.9 854L1799.9 851.3L1798.8 848.6L1797.6 845.9L1796.4 843.2L1795.1 840.6L1793.7 838L1792.2 835.4L1790.7 832.8L1789.1 830.3L1787.5 827.9L1785.8 825.5L1784.1 823.1L1782.3 820.8L1780.4 818.6L1778.6 816.4L1776.6 814.4L1774.7 812.4L1772.7 810.4L1770.7 808.6L1768.7 806.8L1766.6 805.2L1764.5 803.6L1762.5 802.2L1760.4 800.8L1758.3 799.5L1756.2 798.4L1754.1 797.3L1752 796.4L1749.9 795.6L1747.9 794.8L1745.9 794.2L1743.8 793.8L1741.9 793.4L1739.9 793.1L1738 793L1736.1 793L1734.3 793.1L1732.5 793.3L1730.8 793.7L1729.1 794.1L1727.4 794.7L1725.9 795.4L1724.3 796.2L1722.9 797.1L1721.5 798.1L1696.5 812.5L1697.9 811.5L1699.3 810.6L1700.8 809.8L1702.4 809.1L1704 808.6L1705.8 808L1707.8 807.6L1709.8 807.2L1711.8 807L1713.9 806.9L1716.1 806.9L1718.3 807L1720.5 807.3L1722.7 807.6L1724.9 808.1L1727.2 808.7L1729.5 809.4L1731.8 810.2L1734.1 811.1L1736.4 812.1L1738.8 813.3L1741.1 814.5L1743.2 815.9L1745.3 817.5L1747.4 819.1L1749.4 820.9L1751.4 822.7L1753.4 824.7L1755.3 826.7L1757.3 828.7L1759.1 830.9L1761 833.1L1762.8 835.4L1764.5 837.8L1766.2 840.2L1767.8 842.6L1769.4 845.1L1770.9 847.7L1772.4 850.3L1773.7 852.9L1775.1 855.5L1776.3 858.2L1777.5 860.9L1778.5 863.6L1779.6 866.3L1780.5 869L1781.3 871.7L1782.1 874.4L1782.8 877L1783.3 879.7L1783.8 882.3L1784.3 884.9L1784.6 887.5L1784.8 890.1L1784.9 892.5L1785 895L1784.9 897.4L1784.8 899.7L1784.6 902L1784.3 904.2L1783.9 906.3L1783.4 908.4L1782.8 910.4L1782.1 912.3L1781.3 914.1L1780.5 915.8L1779.6 917.5L1778.6 919L1777.5 920.4L1776.3 921.8L1775.1 923L1773.8 924.1L1772.4 925.2L1770.9 926.1L1769.4 926.9L1767.9 927.5Z" style="fill:#000" stroke-width="1.6"/>
<path d="M1756.3 928.2A67.4 38.9 60 0 0 1731.1 841.5" stroke-width="1.6" style="stroke:#f2f2f2"/>
<path d="M1796.2 901.3A66.9 38.6 60 0 0 1763.2 813.5" stroke-width="1.6" style="stroke:#f2f2f2"/>
<path d="M1735.7 906.3A66.4 38.3 60 0 0 1694.5 842.5" stroke-width="1.3" style="stroke:#f2f2f2"/>
<ellipse cx="1620.9" cy="934.3" rx="42.5" ry="24.5" transform="rotate(60 1620.9 934.3)" stroke-width="7.1"/>
<path d="M1491.5 948.4L1529 926.9" stroke-width="4.3"/>
<path d="M1529 926.9C1529.7 926.6 1531.3 925.6 1533 925.5C1534.6 925.3 1536.9 925.4 1538.9 925.9C1540.9 926.3 1543.3 927.4 1544.8 928.1C1546.4 928.9 1547.7 929.8 1548.3 930.1" stroke-width="4.3"/>
<path d="M1548.3 930.1C1548.4 930.6 1549.6 932.4 1548.8 933.1C1547.9 933.7 1543.9 933.4 1543.3 934.1C1542.8 934.8 1544.2 936.7 1545.3 937.3C1546.5 938 1549.4 938 1550.2 938.1" stroke-width="4.3"/>
<path d="M1550.2 938.1L1558.6 938.1" stroke-width="4.3"/>
<path d="M1558.6 938.1C1560.3 940 1565.4 945.2 1568.5 949.4C1571.6 953.6 1574.8 958.3 1577.4 963.2C1580 968.1 1582.5 974.7 1584.3 979C1586.1 983.4 1587.8 986.1 1588.3 989.4C1588.7 992.7 1587.3 997.2 1587.1 998.8" stroke-width="4.3"/>
<path d="M1587.1 998.8C1586.2 999.4 1583.1 1001.3 1581.9 1002.7C1580.6 1004.2 1579.5 1006 1579.6 1007.5C1579.6 1008.9 1581.7 1010.2 1582.1 1011.4C1582.6 1012.6 1583 1013.7 1582.3 1014.6C1581.7 1015.5 1579.1 1016.4 1578.4 1016.7" stroke-width="4.3"/>
<path d="M1578.4 1016.7L1554.7 1030.6L1541.9 1035.5" stroke-width="4.3"/>
<ellipse cx="1516.5" cy="994" rx="53" ry="30.6" transform="rotate(60 1516.5 994)" stroke-width="4.3"/>
<path d="M1505.3 945.6C1507.6 946.6 1514.5 948.1 1519.1 951.4C1523.7 954.6 1529.2 960.6 1533 965.2C1536.7 969.8 1540.4 976.7 1541.9 979" stroke-width="4.1"/>
<path d="M1547.8 989.9C1548.6 992 1551.5 997.9 1552.7 1002.7C1554 1007.5 1554.9 1013.9 1555.2 1018.5C1555.5 1023.1 1554.6 1028.4 1554.5 1030.4" stroke-width="4.1"/>
<path d="M1494.4 953.5C1496.3 953.6 1502.2 953 1505.3 953.9C1508.4 954.9 1510.8 957 1513.2 959.3C1515.6 961.5 1518.6 966.3 1519.6 967.7" stroke-width="4.1"/>
<path d="M1539.7 1004.7C1540.2 1006.7 1542.3 1012.6 1542.8 1016.5C1543.4 1020.5 1543.2 1025.2 1543 1028.4C1542.9 1031.6 1542 1034.3 1541.9 1035.5" stroke-width="4.1"/>
<path d="M1489.5 992C1489.1 989.9 1487 982.8 1487 979C1487 975.2 1487.9 971.7 1489.5 969.1C1491.1 966.5 1494.1 964.4 1496.4 963.4C1498.7 962.4 1500.5 961.9 1503.3 963.2C1506.1 964.5 1509.6 967.5 1513.2 971.1C1516.8 974.7 1521.9 980.3 1525.1 984.9C1528.2 989.5 1530.2 994 1532 998.8C1533.8 1003.5 1535.6 1009.3 1535.9 1013.6C1536.3 1017.9 1535.3 1021.8 1534 1024.4C1532.6 1027.1 1530.5 1028.9 1528 1029.6C1525.6 1030.3 1521.9 1029.4 1519.1 1028.6C1516.3 1027.8 1512.6 1025.3 1511.2 1024.6" stroke-width="4.3"/>
<path d="M1547.8 989.9L1541.1 986.1L1542 979L1571.7 965.4L1576.8 969.3L1547.8 989.9" stroke-width="3.6"/>
<path d="M1545.3 984L1572 969.6" stroke-width="1.9" style="stroke:#fff"/>
<path d="M1434.7 1106.9A70.5 40.7 60 0 0 1477.5 1071.6A70.5 40.7 60 0 0 1429.4 989.4A70.5 40.7 60 0 0 1378.2 1010.3" stroke-width="7.8"/>
<ellipse cx="1377.7" cy="1074.8" rx="72.8" ry="42" transform="rotate(60 1377.7 1074.8)" stroke-width="3.8"/>
<ellipse cx="1379" cy="1074" rx="66.5" ry="38.4" transform="rotate(60 1379 1074)" stroke-width="6.6"/>
<path d="M1378.7 1035.8C1379.9 1038.3 1383 1045.8 1385.7 1050.8C1388.4 1055.8 1391.5 1061.3 1394.7 1065.8C1397.9 1070.3 1401.4 1074.1 1404.7 1077.8C1408 1081.4 1413 1086.1 1414.7 1087.8" stroke-width="4.3"/>
<path d="M1387.7 1037.3C1388.7 1039.6 1391.2 1046.6 1393.7 1051.3C1396.2 1055.9 1399.5 1060.9 1402.7 1065.3C1405.9 1069.6 1409.4 1073.9 1412.7 1077.3C1416 1080.7 1421 1084.4 1422.7 1085.8" stroke-width="3.8"/>
<path d="M1302.6 1183.2A70.5 40.7 60 0 0 1345.4 1147.9A70.5 40.7 60 0 0 1297.3 1065.7A70.5 40.7 60 0 0 1246.1 1086.6" stroke-width="7.8"/>
<ellipse cx="1242" cy="1153.2" rx="72.8" ry="42" transform="rotate(60 1242 1153.2)" stroke-width="3.8"/>
<ellipse cx="1243.3" cy="1152.4" rx="66.5" ry="38.4" transform="rotate(60 1243.3 1152.4)" stroke-width="6.6"/>
<path d="M1243 1114.2C1244.2 1116.7 1247.3 1124.2 1250 1129.2C1252.7 1134.2 1255.8 1139.7 1259 1144.2C1262.2 1148.7 1265.7 1152.5 1269 1156.2C1272.3 1159.8 1277.3 1164.5 1279 1166.2" stroke-width="4.3"/>
<path d="M1252 1115.7C1253 1118 1255.5 1125 1258 1129.7C1260.5 1134.3 1263.8 1139.3 1267 1143.7C1270.2 1148 1273.7 1152.2 1277 1155.7C1280.3 1159.1 1285.3 1162.7 1287 1164.2" stroke-width="3.8"/>
<path d="M1150.4 1149.5A54.5 31.4 60 0 0 1131.7 1206.6A54.5 31.4 60 0 0 1193.5 1243.6A54.5 31.4 60 0 0 1176.8 1165.2" stroke-width="8.2"/>
<path d="M1141.3 1150.5A53.5 30.9 60 0 0 1125.8 1184.9A53.5 30.9 60 0 0 1153.2 1235.3" stroke-width="10.1"/>
<circle cx="1153.8" cy="1156.6" r="6.4" style="fill:#000" stroke-width="1"/>
<circle cx="1173" cy="1168.9" r="6.4" style="fill:#000" stroke-width="1"/>
<path d="M1150.4 1149.5L1153.8 1156.6" stroke-width="7"/>
<path d="M1176.8 1165.2L1173 1168.9" stroke-width="7"/>
<path d="M1165.1 1245.6A56 32.3 60 0 0 1196.2 1242.9" stroke-width="1.2" style="stroke:#fff"/>
<path d="M1147.8 1148.7A55 31.7 60 0 0 1127.8 1159.5" stroke-width="1.2" style="stroke:#fff"/>
<ellipse cx="1068.5" cy="1253.4" rx="51" ry="29.4" transform="rotate(60 1068.5 1253.4)" stroke-width="4.3"/>
<ellipse cx="1069.8" cy="1252.6" rx="45" ry="26" transform="rotate(60 1069.8 1252.6)" stroke-width="5.5"/>
<path d="M1043 1209.2L1082 1186.7" stroke-width="4.1"/>
<path d="M1094 1297.5L1133 1275" stroke-width="4.1"/>
<path d="M1133 1275A51 29.4 60 0 0 1133 1216.2A51 29.4 60 0 0 1082 1186.7" stroke-width="4.3"/>
<path d="M1104 1256.5A43.5 25.1 60 0 0 1078.3 1216.8" stroke-width="5"/>
<path d="M895.6 1422.2A97 56 60 0 0 972.1 1395.7A97 56 60 0 0 909.1 1272.5A97 56 60 0 0 835.4 1304.7" stroke-width="4.1"/>
<path d="M880.3 1414.1A102.7 59.3 60 0 0 975.7 1402.1A102.7 59.3 60 0 0 900.9 1263A102.7 59.3 60 0 0 833.2 1326.4" stroke-width="4.3"/>
<path d="M980.1 1423A102.7 59.3 60 0 0 980.1 1304.5A102.7 59.3 60 0 0 877.4 1245.2" stroke-width="4.8"/>
<path d="M852.5 1259.5L877.4 1245.2" stroke-width="4.1"/>
<path d="M955.2 1437.4L980.1 1423" stroke-width="4.1"/>
<path d="M993.3 1355.6A101.7 58.7 60 0 0 905.2 1246" stroke-width="3.6"/>
<ellipse cx="876" cy="1364.6" rx="66.5" ry="38.4" transform="rotate(60 876 1364.6)" stroke-width="4.6"/>
<path d="M928.7 1413A69 39.8 60 0 0 931.4 1327A69 39.8 60 0 0 856.7 1299.1" stroke-width="4.3"/>
<path d="M841.1 1308L863.1 1292.4" stroke-width="4.1"/>
<path d="M906.9 1423.3L931.4 1412.1" stroke-width="4.1"/>
<ellipse cx="877" cy="1365.2" rx="54" ry="31.2" transform="rotate(60 877 1365.2)" stroke-width="4.8"/>
<path d="M871.3 1318.4A50 28.8 60 0 0 845.4 1347.6A50 28.8 60 0 0 879.4 1403.4A50 28.8 60 0 0 915.3 1390.4" stroke-width="3.8"/>
<path d="M851.2 1329.8L850.6 1331.6L850 1333.5L849.6 1335.5L849.4 1337.6L849.2 1339.8L849.1 1342L849.2 1344.3L849.4 1346.7L849.6 1349.1L850 1351.6L850.5 1354L851.2 1356.6L851.9 1359.1L852.7 1361.6L853.6 1364.2L854.7 1366.7L855.8 1369.2L857 1371.7L858.3 1374.2L859.7 1376.6L861.2 1379L862.7 1381.3L864.3 1383.5L866 1385.7L867.7 1387.7L869.5 1389.7L871.3 1391.6L873.2 1393.5L875.1 1395.1L877 1396.7L879 1398.2L880.9 1399.5L882.9 1400.7L884.9 1401.8L886.8 1402.8L888.8 1403.6L890.7 1404.3L892.6 1404.8L894.5 1405.2L896.3 1405.4L901.3 1398.2L899.6 1398L897.9 1397.7L896.1 1397.2L894.4 1396.6L892.6 1395.8L890.8 1395L889 1394L887.2 1392.9L885.4 1391.6L883.6 1390.3L881.8 1388.9L880.1 1387.3L878.4 1385.7L876.7 1383.9L875.1 1382.1L873.5 1380.2L872 1378.2L870.5 1376.1L869.1 1374L867.7 1371.8L866.4 1369.6L865.3 1367.4L864.1 1365.1L863.1 1362.8L862.2 1360.5L861.3 1358.1L860.5 1355.8L859.9 1353.5L859.3 1351.2L858.9 1348.9L858.5 1346.6L858.2 1344.4L858.1 1342.3L858 1340.2L858.1 1338.1L858.2 1336.1L858.5 1334.2L858.9 1332.4L859.3 1330.6L859.9 1329Z" style="fill:#000" stroke-width="2"/>
<path d="M874.3 1317.8A43 24.8 60 0 0 872.2 1372.3A43 24.8 60 0 0 919.3 1387.4" stroke-width="4.3"/>
<path d="M876.1 1319.7A40 23.1 60 0 0 878.7 1366.2A40 23.1 60 0 0 917.8 1387.8" stroke-width="5.4"/>
<path d="M880.6 1361.5L881.2 1362.5L881.8 1363.6L882.4 1364.6L883.1 1365.7L883.8 1366.7L884.4 1367.7L885.1 1368.7L885.9 1369.6L886.6 1370.6L887.3 1371.5L888.1 1372.4L888.9 1373.3L889.6 1374.2L890.4 1375.1L891.2 1375.9L892.1 1376.7L892.9 1377.5L893.7 1378.3L894.5 1379L895.4 1379.7L896.2 1380.4L897.1 1381L897.9 1381.7L898.8 1382.3L899.7 1382.8L900.5 1383.4L901.4 1383.9L902.2 1384.4L903.1 1384.8L904 1385.2L904.8 1385.6L905.7 1386L906.5 1386.3L907.4 1386.6L908.2 1386.8L909.1 1387L909.9 1387.2L910.7 1387.4L911.5 1387.5L912.3 1387.6L918.7 1381.8L917.9 1381.7L917.2 1381.6L916.4 1381.4L915.6 1381.3L914.8 1381L914 1380.8L913.2 1380.5L912.4 1380.2L911.6 1379.9L910.8 1379.5L909.9 1379.1L909.1 1378.7L908.3 1378.2L907.5 1377.8L906.7 1377.2L905.8 1376.7L905 1376.1L904.2 1375.5L903.4 1374.9L902.6 1374.3L901.8 1373.6L901 1372.9L900.2 1372.2L899.4 1371.4L898.7 1370.7L897.9 1369.9L897.2 1369.1L896.4 1368.2L895.7 1367.4L895 1366.5L894.2 1365.6L893.6 1364.7L892.9 1363.8L892.2 1362.9L891.6 1361.9L890.9 1360.9L890.3 1360L889.7 1359L889.1 1358L888.5 1357Z" style="fill:#000" stroke-width="2"/>
<path d="M883.6 1318.2A38 21.9 60 0 0 894.2 1370.2" stroke-width="3.6"/>
<path d="M918.7 1388.4A50 28.8 60 0 0 893.1 1327" stroke-width="3.6"/>
<ellipse cx="854.5" cy="1280.9" rx="8.6" ry="5" transform="rotate(60 854.5 1280.9)" stroke-width="4.1"/>
<ellipse cx="872.1" cy="1272.1" rx="8.6" ry="5" transform="rotate(60 872.1 1272.1)" stroke-width="4.1"/>
<ellipse cx="895.6" cy="1278" rx="8.6" ry="5" transform="rotate(60 895.6 1278)" stroke-width="4.1"/>
<ellipse cx="920.1" cy="1294.7" rx="8.6" ry="5" transform="rotate(60 920.1 1294.7)" stroke-width="4.1"/>
<ellipse cx="941.7" cy="1320.1" rx="8.6" ry="5" transform="rotate(60 941.7 1320.1)" stroke-width="4.1"/>
<ellipse cx="956.4" cy="1352.5" rx="8.6" ry="5" transform="rotate(60 956.4 1352.5)" stroke-width="4.1"/>
<ellipse cx="962.3" cy="1383.8" rx="8.6" ry="5" transform="rotate(60 962.3 1383.8)" stroke-width="4.1"/>
<ellipse cx="957.4" cy="1408.3" rx="8.6" ry="5" transform="rotate(60 957.4 1408.3)" stroke-width="4.1"/>
<ellipse cx="943.7" cy="1423" rx="8.6" ry="5" transform="rotate(60 943.7 1423)" stroke-width="4.1"/>
<ellipse cx="922.1" cy="1425" rx="8.6" ry="5" transform="rotate(60 922.1 1425)" stroke-width="4.1"/>
<ellipse cx="843.7" cy="1299.6" rx="8.6" ry="5" transform="rotate(60 843.7 1299.6)" stroke-width="4.1"/>
<path d="M936.5 1250.9L964.2 1234.9" stroke-width="6"/>
<path d="M964.2 1234.9L967.2 1233.4L970.5 1232.4L974 1231.8L977.6 1231.7L981.4 1232L985.3 1232.8L989.3 1234.1L993.4 1235.7L997.5 1237.8L1001.6 1240.3L1005.7 1243.2L1009.8 1246.5L1013.7 1250.1L1017.6 1254.1L1021.3 1258.3L1024.8 1262.8L1028.2 1267.5L1031.3 1272.4L1034.2 1277.5L1036.8 1282.7L1039.1 1287.9L1041.2 1293.3L1042.9 1298.6L1044.3 1303.9L1045.4 1309.1L1046.1 1314.2L1046.5 1319.1L1046.5 1323.9L1046.1 1328.5L1045.5 1332.8L1044.4 1336.8L1043.1 1340.5L1041.4 1343.8L1039.4 1346.8L1037.1 1349.4L1034.5 1351.7L1031.6 1353.4L1028.5 1354.8L1025.2 1355.7L1021.7 1356.1L1005.8 1364.2L1009.2 1363.8L1012.5 1362.9L1015.5 1361.6L1018.4 1359.8L1020.9 1357.6L1023.2 1355.1L1025.2 1352.1L1026.8 1348.8L1028.2 1345.1L1029.2 1341.2L1029.8 1337L1030.2 1332.5L1030.2 1327.8L1029.8 1322.9L1029.1 1317.9L1028 1312.7L1026.7 1307.5L1025 1302.3L1022.9 1297L1020.6 1291.8L1018.1 1286.7L1015.2 1281.7L1012.1 1276.9L1008.6 1272.4L1004.5 1268.3L1000.2 1264.5L995.8 1261L991.3 1257.8L986.7 1254.9L982 1252.5L977.3 1250.3L972.6 1248.6L967.9 1247.4L963.3 1246.5L958.8 1246.1L954.5 1246.1L950.2 1246.6L946.2 1247.6L942.3 1248.9L938.7 1250.7Z" style="fill:#000" stroke-width="2"/>
<path d="M1023.6 1345.5A66.2 38.2 60 0 0 966.3 1246.2" stroke-width="2.9"/>
<path d="M1034.3 1339.8A66.7 38.5 60 0 0 1001 1253.9" stroke-width="1.9" style="stroke:#fff"/>
<path d="M994.6 1405.5L1007.6 1365" stroke-width="4.8"/>
<path d="M898.5 1449.5L916 1439.5" stroke-width="4.3" stroke-dasharray="9 6"/>
<ellipse cx="737.1" cy="1444.8" rx="59.8" ry="34.5" transform="rotate(60 737.1 1444.8)" stroke-width="4.6"/>
<path d="M768.7 1495.1A59.8 34.5 60 0 0 772.5 1424.3A59.8 34.5 60 0 0 709.3 1392.3" stroke-width="4.3"/>
<ellipse cx="736.6" cy="1445.8" rx="43.5" ry="25.1" transform="rotate(60 736.6 1445.8)" stroke-width="4.8"/>
<path d="M716.7 1412.8A40.5 23.4 60 0 0 733.9 1469.3" stroke-width="4.1"/>
<path d="M742.6 1489.5A50.5 29.1 60 0 0 771.8 1474.9A50.5 29.1 60 0 0 757.5 1423.6" stroke-width="3.8"/>
<ellipse cx="667.5" cy="1485" rx="59.8" ry="34.5" transform="rotate(60 667.5 1485)" stroke-width="4.6"/>
<path d="M699.1 1535.3A59.8 34.5 60 0 0 702.9 1464.5A59.8 34.5 60 0 0 639.7 1432.5" stroke-width="4.3"/>
<ellipse cx="667" cy="1486" rx="43.5" ry="25.1" transform="rotate(60 667 1486)" stroke-width="4.8"/>
<path d="M647.1 1453A40.5 23.4 60 0 0 664.3 1509.5" stroke-width="4.1"/>
<path d="M673 1529.7A50.5 29.1 60 0 0 702.2 1515.1A50.5 29.1 60 0 0 687.9 1463.8" stroke-width="3.8"/>
<ellipse cx="594.7" cy="1527" rx="61" ry="35.2" transform="rotate(60 594.7 1527)" stroke-width="4.6"/>
<path d="M613.4 1580.1A61 35.2 60 0 0 639.7 1533.6A61 35.2 60 0 0 587.4 1470.2" stroke-width="5.5"/>
<ellipse cx="595.2" cy="1528" rx="44.5" ry="25.7" transform="rotate(60 595.2 1528)" stroke-width="5.8"/>
<path d="M572 1494.8A43 24.8 60 0 0 578 1537.9A43 24.8 60 0 0 612.4 1564.8" stroke-width="3.6"/>
<path d="M630 1565.4A53 30.6 60 0 0 605.8 1491.3" stroke-width="3.4"/>
<ellipse cx="814.5" cy="1495.2" rx="17.6" ry="10.2" transform="rotate(60 814.5 1495.2)" stroke-width="4.6"/>
<ellipse cx="815" cy="1495.2" rx="7.4" ry="4.3" transform="rotate(60 815 1495.2)" stroke-width="3.6"/>
<path d="M805.7 1480L819.6 1472" stroke-width="4.1"/>
<path d="M823.3 1510.4L837.2 1502.4" stroke-width="4.1"/>
<path d="M837.2 1502.4A17.6 10.2 60 0 0 837.2 1482.1A17.6 10.2 60 0 0 819.6 1472" stroke-width="4.3"/>
<path d="M834.3 1475L891.5 1446.6" stroke-width="4.1"/>
<path d="M844.9 1486.5L899.1 1459.8" stroke-width="4.1"/>
<path d="M899.1 1459.8A7.6 4.4 60 0 0 899.1 1451A7.6 4.4 60 0 0 891.5 1446.6" stroke-width="4.1"/>
<path d="M896.2 1461.3A7.6 4.4 60 0 0 895.6 1453A7.6 4.4 60 0 0 888.8 1448.3" stroke-width="3.1"/>
<path d="M891.7 1463.9A7.6 4.4 60 0 0 891.1 1455.6A7.6 4.4 60 0 0 884.2 1450.9" stroke-width="3.1"/>
<path d="M887.2 1466.5A7.6 4.4 60 0 0 886.6 1458.2A7.6 4.4 60 0 0 879.7 1453.5" stroke-width="3.1"/>
<path d="M882.7 1469.1A7.6 4.4 60 0 0 882.1 1460.8A7.6 4.4 60 0 0 875.2 1456.1" stroke-width="3.1"/>
<path d="M878.2 1471.7A7.6 4.4 60 0 0 877.6 1463.4A7.6 4.4 60 0 0 870.7 1458.7" stroke-width="3.1"/>
<path d="M873.7 1474.3A7.6 4.4 60 0 0 873.1 1466A7.6 4.4 60 0 0 866.2 1461.3" stroke-width="3.1"/>
<path d="M869.2 1476.9A7.6 4.4 60 0 0 868.6 1468.6A7.6 4.4 60 0 0 861.7 1463.9" stroke-width="3.1"/>
<ellipse cx="1061.5" cy="1864.5" rx="104" ry="60" transform="rotate(60 1061.5 1864.5)" stroke-width="4.3"/>
<path d="M1046.9 1917.2A70.6 40.7 60 0 0 1108.4 1910.3A70.6 40.7 60 0 0 1069.9 1818.4A70.6 40.7 60 0 0 1010.6 1830.6" stroke-width="7.2"/>
<path d="M1011.6 1856.1A70.6 40.7 60 0 0 1033.4 1902.6" stroke-width="7.2"/>
<path d="M1050.3 1808.5A66 38.1 60 0 0 1016.4 1831.6" stroke-width="3.6"/>
<path d="M1018 1858.5A66 38.1 60 0 0 1042.7 1904.9" stroke-width="3.6"/>
<path d="M1044.1 1813.2C1044.3 1816.4 1044 1825.1 1045.5 1832.4C1046.9 1839.7 1049.5 1849 1052.8 1856.8C1056 1864.6 1060 1872.2 1065 1879.4C1069.9 1886.7 1075.4 1894.5 1082.4 1900.3C1089.4 1906.2 1102.7 1912 1106.8 1914.3" stroke-width="5.5"/>
<path d="M1050.2 1815C1050.6 1818.8 1050.9 1829.8 1052.8 1837.6C1054.7 1845.5 1057.7 1854.2 1061.5 1862C1065.3 1869.9 1070.5 1878.3 1075.4 1884.7C1080.4 1891.1 1085.9 1896.4 1091.1 1900.3C1096.3 1904.3 1104.2 1906.9 1106.8 1908.2" stroke-width="3.6"/>
<path d="M1063.2 1818.5C1064.4 1822 1067 1832.1 1070.2 1839.4C1073.4 1846.6 1078 1855.3 1082.4 1862C1086.8 1868.7 1092.1 1874.8 1096.3 1879.4C1100.6 1884.1 1105.8 1888.2 1107.7 1889.9" stroke-width="4.8"/>
<path d="M1070.2 1825.4C1071.4 1828.3 1074 1836.8 1077.2 1842.9C1080.4 1849 1085.3 1856.5 1089.4 1862C1093.4 1867.5 1098.5 1872.5 1101.6 1876C1104.6 1879.4 1106.6 1881.8 1107.7 1882.9" stroke-width="3.4"/>
<path d="M1075.4 1828.9C1077.5 1832.4 1083.6 1843.4 1087.6 1849.8C1091.7 1856.2 1096.6 1862.9 1099.8 1867.2C1103 1871.6 1105.6 1874.5 1106.8 1876" stroke-width="3.4"/>
<ellipse cx="1013.6" cy="1801.9" rx="9.6" ry="5.5" transform="rotate(60 1013.6 1801.9)" stroke-width="4.1"/>
<ellipse cx="1031.9" cy="1795.8" rx="9.6" ry="5.5" transform="rotate(60 1031.9 1795.8)" stroke-width="4.1"/>
<ellipse cx="1054.5" cy="1800.2" rx="9.6" ry="5.5" transform="rotate(60 1054.5 1800.2)" stroke-width="4.1"/>
<ellipse cx="1078.9" cy="1816.7" rx="9.6" ry="5.5" transform="rotate(60 1078.9 1816.7)" stroke-width="4.1"/>
<ellipse cx="1099.8" cy="1844.6" rx="9.6" ry="5.5" transform="rotate(60 1099.8 1844.6)" stroke-width="4.1"/>
<ellipse cx="1114.6" cy="1876" rx="9.6" ry="5.5" transform="rotate(60 1114.6 1876)" stroke-width="4.1"/>
<ellipse cx="1119.9" cy="1907.3" rx="9.6" ry="5.5" transform="rotate(60 1119.9 1907.3)" stroke-width="4.1"/>
<ellipse cx="1116.4" cy="1931.7" rx="9.6" ry="5.5" transform="rotate(60 1116.4 1931.7)" stroke-width="4.1"/>
<ellipse cx="1101.6" cy="1947.4" rx="9.6" ry="5.5" transform="rotate(60 1101.6 1947.4)" stroke-width="4.1"/>
<ellipse cx="1080.7" cy="1949.1" rx="9.6" ry="5.5" transform="rotate(60 1080.7 1949.1)" stroke-width="4.1"/>
<ellipse cx="1054.5" cy="1935.2" rx="9.6" ry="5.5" transform="rotate(60 1054.5 1935.2)" stroke-width="4.1"/>
<ellipse cx="1031.9" cy="1914.3" rx="9.6" ry="5.5" transform="rotate(60 1031.9 1914.3)" stroke-width="4.1"/>
<ellipse cx="1013.6" cy="1884.7" rx="9.6" ry="5.5" transform="rotate(60 1013.6 1884.7)" stroke-width="4.1"/>
<ellipse cx="1003.1" cy="1851.6" rx="9.6" ry="5.5" transform="rotate(60 1003.1 1851.6)" stroke-width="4.1"/>
<ellipse cx="1003.1" cy="1822" rx="9.6" ry="5.5" transform="rotate(60 1003.1 1822)" stroke-width="4.1"/>
<path d="M1033.6 1764.8C1041.8 1761.8 1066.1 1752.7 1082.4 1746.7C1098.7 1740.7 1121.3 1732.1 1131.2 1728.7C1141.1 1725.4 1138.4 1727.4 1141.6 1726.5C1144.8 1725.6 1148.9 1724 1150.3 1723.5" stroke-width="4.1"/>
<path d="M1058 1760.1C1060.3 1760.5 1067.3 1760.9 1072 1762.4C1076.6 1763.8 1081.5 1766.4 1085.9 1768.8C1090.2 1771.2 1096.1 1775.3 1098.1 1776.7" stroke-width="3.8"/>
<path d="M1031.9 1771.8C1034.8 1772.1 1043.2 1772 1049.3 1773.5C1055.4 1775.1 1062.7 1778 1068.5 1781C1074.3 1784 1079.8 1788.2 1084.1 1791.5C1088.5 1794.7 1092.9 1799.2 1094.6 1800.7" stroke-width="3.8"/>
<path d="M1023.2 1781.9C1026.1 1781.9 1034.8 1781 1040.6 1781.9C1046.4 1782.8 1052.8 1784.9 1058 1787.1C1063.2 1789.3 1069.6 1793.6 1072 1794.9" stroke-width="3.6"/>
<path d="M1089.4 1961.7C1092.3 1961.2 1101 1960.5 1106.8 1958.7C1112.6 1956.9 1115.5 1955.4 1124.2 1950.9C1132.9 1946.4 1146.6 1940.1 1159.1 1931.7C1171.5 1923.3 1188.7 1909.6 1199.1 1900.3C1209.6 1891.1 1216.6 1881.4 1221.8 1876C1227 1870.5 1229 1869 1230.5 1867.6" stroke-width="4.1"/>
<path d="M1137.3 1874.2C1138.2 1877.1 1141.4 1885.8 1142.5 1891.6C1143.6 1897.4 1144.3 1902.7 1143.7 1909.1C1143.1 1915.4 1141.7 1923.6 1139 1930C1136.4 1936.4 1129.6 1944.5 1127.7 1947.4" stroke-width="3.8"/>
<path d="M1134.7 1896.9C1134.8 1899.8 1136.1 1908.5 1135.5 1914.3C1135 1920.1 1133.4 1926.8 1131.2 1931.7C1129 1936.6 1123.9 1941.9 1122.5 1943.9" stroke-width="3.4"/>
<path d="M1148.6 1844.9L1155.6 1862" stroke-width="4.1"/>
<path d="M1150.3 1723C1154.7 1725.8 1167.8 1731.4 1176.5 1740.1C1185.2 1748.7 1195.1 1762.7 1202.6 1774.9C1210.2 1787.1 1216.8 1801 1221.8 1813.2C1226.7 1825.4 1230.7 1839.1 1232.2 1848.1C1233.7 1857.1 1231.1 1864.1 1230.8 1867.2" stroke-width="6"/>
<path d="M1162.5 1726.1C1166.6 1729 1178.8 1734.8 1186.9 1743.6C1195.1 1752.3 1204.4 1766.5 1211.3 1778.4C1218.3 1790.3 1224.2 1803.4 1228.7 1815C1233.2 1826.6 1236.9 1839.8 1238.3 1848.1C1239.8 1856.4 1237.6 1861.9 1237.5 1864.6" stroke-width="3.4"/>
<path d="M1169.5 1720.9C1173.9 1723.2 1187.2 1726.7 1195.6 1734.8C1204.1 1743 1212.8 1757.5 1220 1769.7C1227.3 1781.9 1234.3 1795.8 1239.2 1808C1244.1 1820.2 1248.1 1833.9 1249.7 1842.9C1251.2 1851.9 1248.9 1858.8 1248.8 1862" stroke-width="3.4"/>
<path d="M1176.5 1716C1180.8 1717.1 1193.9 1717.2 1202.6 1722.6C1211.3 1728.1 1220.9 1738 1228.7 1748.8C1236.6 1759.5 1244.4 1774.9 1249.7 1787.1C1254.9 1799.3 1258.3 1813.2 1260.1 1822C1261.9 1830.7 1261 1834.4 1260.5 1839.4C1259.9 1844.4 1257.3 1849.8 1256.6 1851.9" stroke-width="6.6"/>
<path d="M1230.8 1867.2C1232.8 1867 1238.4 1868.4 1242.7 1865.9C1247 1863.3 1254.3 1854.2 1256.6 1851.9" stroke-width="4.1"/>
<path d="M1150.3 1723L1176.5 1716" stroke-width="4.1"/>
<path d="M1154.2 1867.6L1186.9 1851.9L1198.3 1860.6L1199.5 1898.6L1166 1926.5L1155.2 1930L1154.2 1867.6" stroke-width="4.1"/>
<path d="M1154.2 1867.6L1165.2 1871.6L1166 1926.5" stroke-width="3.8"/>
<path d="M1165.2 1871.6L1198.3 1860.6" stroke-width="3.6"/>
<path d="M1158.4 1869.9L1159.1 1928.6" stroke-width="2.9"/>
<path d="M1186.9 1851.9L1187.3 1857.7" stroke-width="3.6"/>
<ellipse cx="1178.6" cy="1889.9" rx="8" ry="12" transform="rotate(28 1178.6 1889.9)" stroke-width="3.6"/>
<path d="M1167.3 1874L1175.3 1870L1175.3 1879L1167.3 1883Z" style="fill:#000" stroke-width="1"/>
<path d="M1185 1864.4L1193 1860.4L1193 1869.4L1185 1873.4Z" style="fill:#000" stroke-width="1"/>
<path d="M1166.4 1914.9L1174.4 1910.9L1174.4 1919.9L1166.4 1923.9Z" style="fill:#000" stroke-width="1"/>
<path d="M1184.7 1903.6L1192.7 1899.6L1192.7 1908.6L1184.7 1912.6Z" style="fill:#000" stroke-width="1"/>
<path d="M957 1930.8L1051 1877.7" stroke-width="4.3" stroke-dasharray="9.5 8.5"/>
<path d="M2110 1166.4C2118.1 1171.2 2144.7 1181.7 2158.4 1195.2C2172.1 1208.7 2184.1 1232.2 2192.4 1247.4C2200.6 1262.7 2205.8 1276.2 2208 1286.6C2210.3 1297.1 2206.3 1306.2 2205.9 1310.1" stroke-width="6"/>
<path d="M2119.2 1162.5C2127 1167.1 2152.5 1176.7 2166.2 1189.9C2179.9 1203.2 2193 1227 2201.5 1242.2C2210 1257.4 2214.8 1270.9 2217.2 1281.4C2219.6 1291.9 2216.1 1301 2215.9 1304.9" stroke-width="3.4"/>
<path d="M2125.7 1160.7C2133.6 1164.9 2158.8 1173.1 2172.8 1186C2186.7 1199 2200.6 1223 2209.3 1238.3C2218.1 1253.5 2222.6 1267.2 2225 1277.5C2227.4 1287.7 2223.9 1296 2223.7 1299.7" stroke-width="3.4"/>
<path d="M2132.3 1158.6C2140.1 1162.5 2165.4 1169.5 2179.3 1182.1C2193.2 1194.7 2206.9 1219.1 2215.9 1234.4C2224.8 1249.6 2230.2 1264 2232.9 1273.6C2235.6 1283.1 2234.5 1287.5 2232.1 1291.9C2229.7 1296.2 2220.8 1298.4 2218.5 1299.7" stroke-width="5.5"/>
<path d="M2110 1166.4L2132.3 1158.6" stroke-width="4.1"/>
<path d="M2205.9 1310.1L2218.5 1299.7" stroke-width="4.1"/>
<path d="M2210.7 1189.9L2323 1127.2" stroke-width="3.8"/>
<path d="M2323 1127.2C2324.3 1127.1 2328.9 1126.3 2330.8 1126.7C2332.8 1127.1 2334.1 1129.3 2334.8 1129.8" stroke-width="3.6"/>
<path d="M2218.5 1299.7L2300 1251.4" stroke-width="3.8"/>
<path d="M2137.5 1156L2142.7 1140.8L2176.7 1123.3L2192.9 1130.4L2161 1153.4" stroke-width="3.8"/>
<path d="M2192.9 1130.4L2221.1 1115.5" stroke-width="3.8"/>
<path d="M2219.8 1116.8C2222.2 1112.6 2227.9 1099.8 2234.2 1092C2240.5 1084.1 2249.4 1075.3 2257.7 1069.7C2266 1064.2 2276 1059.9 2283.8 1058.8C2291.7 1057.7 2301.2 1062.5 2304.7 1063.2" stroke-width="4.1"/>
<path d="M2304.7 1063.2L2351.8 1082.8L2393.6 1114.2" stroke-width="4.1"/>
<path d="M2393.6 1114.2C2395.5 1116.8 2402.4 1124.2 2405.3 1129.8C2408.3 1135.5 2410.3 1145.1 2411.3 1148.1" stroke-width="4.1"/>
<path d="M2223.7 1109.5C2227.6 1107.6 2240.9 1101.4 2247.2 1098.5C2253.5 1095.6 2259 1093.7 2261.6 1092C2264.2 1090.2 2263.6 1088.9 2262.9 1088C2262.3 1087.2 2258.6 1086.9 2257.7 1086.7" stroke-width="3.6"/>
<path d="M2388.4 1217.2A83 47.9 -60 0 1 2294.9 1231.9A83 47.9 -60 0 1 2366.5 1110.8A83 47.9 -60 0 1 2397.2 1202.3" stroke-width="4.3"/>
<path d="M2369.9 1202.3A42.6 24.6 -60 0 1 2322.5 1210.1A42.6 24.6 -60 0 1 2356.9 1147.8A42.6 24.6 -60 0 1 2377.1 1189.4" stroke-width="6.6"/>
<path d="M2353.6 1143.4A42.6 24.6 -60 0 1 2374.1 1177" stroke-width="3.6"/>
<path d="M2305.2 1146C2303.2 1149.7 2296.5 1159.3 2293 1167.7C2289.4 1176.1 2285.3 1191.7 2283.8 1196.5" stroke-width="4.1"/>
<path d="M2287.7 1236.5L2297.4 1248.7" stroke-width="3.6"/>
<path d="M2289 1240.9L2293 1242.7" stroke-width="2.9"/>
<ellipse cx="2329.5" cy="1080.9" rx="12.5" ry="6" transform="rotate(5 2329.5 1080.9)" style="fill:#000" stroke-width="2"/>
<path d="M2300 1093.8L2318.3 1083.3" stroke-width="3.8"/>
<path d="M2344 1029L2332.5 1074" stroke-width="4.3" stroke-dasharray="9 7"/>
<path d="M2354.4 1187.3L2407 1217.6" stroke-width="3.8" stroke-dasharray="10.5 5.5"/>
<path d="M2168.8 1078.9L2208 1101.1" stroke-width="3.6" stroke-dasharray="10 9"/>
<ellipse cx="2164.1" cy="1077.6" rx="41" ry="23.7" transform="rotate(-60 2164.1 1077.6)" stroke-width="4.3"/>
<ellipse cx="2163.1" cy="1077.6" rx="33.5" ry="19.3" transform="rotate(-60 2163.1 1077.6)" stroke-width="4.1"/>
<path d="M2161 1050.9A37.5 21.6 -60 0 1 2191.7 1058" stroke-width="4.8"/>
<path d="M2157.3 1110.7A37 21.3 -60 0 1 2138.8 1100" stroke-width="3.1"/>
<ellipse cx="2523.4" cy="1284.8" rx="41" ry="23.7" transform="rotate(-60 2523.4 1284.8)" stroke-width="4.3"/>
<ellipse cx="2522.4" cy="1284.8" rx="33.5" ry="19.3" transform="rotate(-60 2522.4 1284.8)" stroke-width="4.1"/>
<path d="M2520.3 1258.1A37.5 21.6 -60 0 1 2551 1265.2" stroke-width="4.8"/>
<path d="M2516.6 1317.9A37 21.3 -60 0 1 2498.1 1307.2" stroke-width="3.1"/>
<ellipse cx="2472" cy="1255.3" rx="38" ry="21.9" transform="rotate(-60 2472 1255.3)" stroke-width="4.3"/>
<ellipse cx="2471.5" cy="1255.3" rx="31" ry="17.9" transform="rotate(-60 2471.5 1255.3)" stroke-width="6"/>
<path d="M2400.7 1258.9A38 21.9 -60 0 1 2400.7 1215A38 21.9 -60 0 1 2438.7 1193.1" stroke-width="4.1"/>
<path d="M2438.7 1193.1L2491 1222.4" stroke-width="4.1"/>
<path d="M2400.7 1258.9L2453 1288.2" stroke-width="4.1"/>
<path d="M2423.4 1271.4A38 21.9 -60 0 1 2421.3 1236A38 21.9 -60 0 1 2451 1205.6" stroke-width="3.8"/>
<path d="M2426 1272.3A38 21.9 -60 0 1 2421.1 1257.3" stroke-width="3.8"/>
<path d="M2432.6 1225.3A38 21.9 -60 0 1 2457.2 1207.3" stroke-width="3.8"/>
<path d="M2350 983.2L2357.1 983.2L2361 986L2364.9 991.5L2364.5 996.2L2361.8 999.3L2364.9 1001.7L2366.9 1007.2L2366.1 1015.4L2358.2 1023.2L2357.5 1025.6L2352.7 1029.9L2347.3 1029.9L2341.4 1028.7L2335.9 1023.6L2336.3 1018.1L2333.9 1012.6L2334.3 1005.6L2335.1 1000.1L2338.2 997.4L2344.9 993.8L2344.9 988.3ZM2350.8 987.9L2355.1 990.7L2359.8 991.9L2358.2 997L2357.1 1000.9L2357.8 1006L2351.6 1006L2344.9 1002.5L2348.4 997.7L2348.8 991.1ZM2342.2 1006L2346.1 1008.3L2351.6 1010.7L2359.4 1010.3L2360.6 1012.6L2355.5 1013L2353.9 1017.7L2342.9 1015.8L2343.3 1011.9ZM2341 1020.9L2345.3 1023.6L2352 1024L2349.6 1025.6L2344.5 1025.2Z" style="fill:#000;fill-rule:evenodd" stroke-width="1.2"/>
<text x="386.6" y="717" class="lb" font-size="40.5">8</text>
<text x="457" y="759" class="lb" font-size="40.5">6</text>
<text x="630.3" y="709.3" class="lb" font-size="40.5">3</text>
<text x="875.7" y="1000.5" class="lb" font-size="40.5">8</text>
<text x="1146" y="504" class="lb" font-size="40.5">5</text>
<text x="1909" y="483" class="lb" font-size="40.5" letter-spacing="-0.6">15</text>
<text x="1980.3" y="440.1" class="lb" font-size="40.5" letter-spacing="-0.6">18</text>
<text x="2327" y="324.6" class="lb" font-size="40.5">7</text>
<text x="2398.6" y="293" class="lb" font-size="40.5" letter-spacing="2.6">29</text>
<text x="2346.9" y="736.4" class="lb" font-size="40.5" letter-spacing="-0.6">17</text>
<text x="2274.8" y="775.6" class="lb" font-size="40.5" letter-spacing="-0.6">16</text>
<text x="2195.9" y="823.7" class="lb" font-size="40.5" letter-spacing="2.6">28</text>
<text x="2106.3" y="875.5" class="lb" font-size="40.5" letter-spacing="2.6">27</text>
<text x="2018.6" y="927" class="lb" font-size="40.5" letter-spacing="2.6">26</text>
<text x="1932.5" y="976" class="lb" font-size="40.5" letter-spacing="2.6">27</text>
<text x="1845.9" y="1025.6" class="lb" font-size="40.5" letter-spacing="2.6">28</text>
<text x="1741.5" y="1086.5" class="lb" font-size="40.5" letter-spacing="-0.6">10</text>
<text x="1635.9" y="1147.9" class="lb" font-size="40.5" letter-spacing="2.6">25</text>
<text x="1562" y="1187.5" class="lb" font-size="40.5">11</text>
<text x="1490" y="1235.1" class="lb" font-size="40.5" letter-spacing="2.6">22</text>
<text x="1418.1" y="1283.8" class="lb" font-size="40.5" letter-spacing="2.6">24</text>
<text x="1329.6" y="1323.3" class="lb" font-size="40.5" letter-spacing="2.6">22</text>
<text x="1256.7" y="1367.2" class="lb" font-size="40.5" letter-spacing="2.6">23</text>
<text x="1179" y="1416.6" class="lb" font-size="40.5" letter-spacing="-0.6">12</text>
<text x="1107.3" y="1453.4" class="lb" font-size="40.5" letter-spacing="-0.6">14</text>
<text x="982.6" y="1535.8" class="lb" font-size="40.5">9</text>
<text x="845.8" y="1619.1" class="lb" font-size="40.5" letter-spacing="-0.6">13</text>
<text x="748.5" y="1667" class="lb" font-size="40.5">21</text>
<text x="680.8" y="1710.5" class="lb" font-size="40.5" letter-spacing="-0.6">19</text>
<text x="617.4" y="1748" class="lb" font-size="40.5" letter-spacing="2.6">20</text>
<text x="2260.2" y="980.9" class="lb" font-size="40.5">4</text>
<text x="2467.8" y="1011" class="lb" font-size="40.5">3</text>
<text x="2466.4" y="1118.9" class="lb" font-size="40.5">2</text>
<text x="2540.9" y="1160.7" class="lb" font-size="40.5">4</text>
<text x="1707.5" y="1759.3" class="lb" font-size="40.5">1</text>
<path d="M387 728L387 783.5" stroke-width="3.9"/>
<path d="M379.1 781.5L385.4 811.5L388.6 811.5L394.9 781.5Z" style="fill:#000" stroke-width="1.2"/>
<path d="M458 770.3L458 819.5" stroke-width="3.9"/>
<path d="M450.1 817.5L456.4 847.5L459.6 847.5L465.9 817.5Z" style="fill:#000" stroke-width="1.2"/>
<path d="M622.5 724.1L603.7 763.6" stroke-width="3.9"/>
<path d="M597.4 758.4L590.3 788.2L593.1 789.6L611.7 765.2Z" style="fill:#000" stroke-width="1.2"/>
<path d="M855.4 993.8L796.6 1024.7" stroke-width="3.9"/>
<path d="M794.7 1016.8L771.1 1036.3L772.5 1039.1L802 1030.7Z" style="fill:#000" stroke-width="1.2"/>
<path d="M1146 515.1L1146 599.5" stroke-width="3.9"/>
<path d="M1138.1 597.5L1144.4 627.5L1147.6 627.5L1153.9 597.5Z" style="fill:#000" stroke-width="1.2"/>
<path d="M1910 438.8L1910 351.4" stroke-width="3.9"/>
<path d="M1917.9 353.4L1911.6 323.4L1908.4 323.4L1902.1 353.4Z" style="fill:#000" stroke-width="1.2"/>
<path d="M1981.5 397.5L1981.5 307.4" stroke-width="3.9"/>
<path d="M1989.4 309.4L1983.1 279.4L1979.9 279.4L1973.6 309.4Z" style="fill:#000" stroke-width="1.2"/>
<path d="M2331.2 334.3L2344.8 406.1" stroke-width="3.9"/>
<path d="M2336.7 405.6L2348.4 433.9L2351.6 433.3L2352.2 402.7Z" style="fill:#000" stroke-width="1.2"/>
<path d="M2398.6 310.8L2386.3 392.8" stroke-width="3.9"/>
<path d="M2378.7 389.7L2380.5 420.3L2383.7 420.7L2394.4 392Z" style="fill:#000" stroke-width="1.2"/>
<path d="M2344.3 697.2L2344.3 605.5" stroke-width="3.9"/>
<path d="M2352.2 607.5L2345.9 577.5L2342.7 577.5L2336.4 607.5Z" style="fill:#000" stroke-width="1.2"/>
<path d="M2273.6 737.5L2273.6 650.7" stroke-width="3.9"/>
<path d="M2281.5 652.7L2275.2 622.7L2272 622.7L2265.7 652.7Z" style="fill:#000" stroke-width="1.2"/>
<path d="M2199 780.4L2199 713" stroke-width="3.9"/>
<path d="M2206.9 715L2200.6 685L2197.4 685L2191.1 715Z" style="fill:#000" stroke-width="1.2"/>
<path d="M2107.9 832.2L2107.9 760.3" stroke-width="3.9"/>
<path d="M2115.8 762.3L2109.5 732.3L2106.3 732.3L2100 762.3Z" style="fill:#000" stroke-width="1.2"/>
<path d="M2020.1 883.4L2020.1 814.5" stroke-width="3.9"/>
<path d="M2028 816.5L2021.7 786.5L2018.5 786.5L2012.2 816.5Z" style="fill:#000" stroke-width="1.2"/>
<path d="M1934.3 933.6L1934.3 864.1" stroke-width="3.9"/>
<path d="M1942.2 866.1L1935.9 836.1L1932.7 836.1L1926.4 866.1Z" style="fill:#000" stroke-width="1.2"/>
<path d="M1848.3 982.5L1848.3 910" stroke-width="3.9"/>
<path d="M1856.2 912L1849.9 882L1846.7 882L1840.4 912Z" style="fill:#000" stroke-width="1.2"/>
<path d="M1742.5 1043.5L1742.5 980.2" stroke-width="3.9"/>
<path d="M1750.4 982.2L1744.1 952.2L1740.9 952.2L1734.6 982.2Z" style="fill:#000" stroke-width="1.2"/>
<path d="M1637.7 1104.8L1637.7 1001.5" stroke-width="3.9"/>
<path d="M1645.6 1003.5L1639.3 973.5L1636.1 973.5L1629.8 1003.5Z" style="fill:#000" stroke-width="1.2"/>
<path d="M1564.2 1146.2L1564.2 1054.3" stroke-width="3.9"/>
<path d="M1572.1 1056.3L1565.8 1026.3L1562.6 1026.3L1556.3 1056.3Z" style="fill:#000" stroke-width="1.2"/>
<path d="M1483.3 1192.6L1471 1138.3" stroke-width="3.9"/>
<path d="M1479.1 1138.5L1466.4 1110.6L1463.2 1111.4L1463.7 1142Z" style="fill:#000" stroke-width="1.2"/>
<path d="M1414.9 1241.7L1406.2 1173.6" stroke-width="3.9"/>
<path d="M1414.3 1174.6L1404.3 1145.6L1401.1 1146L1398.6 1176.6Z" style="fill:#000" stroke-width="1.2"/>
<path d="M1332.5 1279.7L1332.5 1216.5" stroke-width="3.9"/>
<path d="M1340.4 1218.5L1334.1 1188.5L1330.9 1188.5L1324.6 1218.5Z" style="fill:#000" stroke-width="1.2"/>
<path d="M1258.1 1322.8L1258.1 1247.8" stroke-width="3.9"/>
<path d="M1266 1249.8L1259.7 1219.8L1256.5 1219.8L1250.2 1249.8Z" style="fill:#000" stroke-width="1.2"/>
<path d="M1174.9 1371.2L1174.9 1281.5" stroke-width="3.9"/>
<path d="M1182.8 1283.5L1176.5 1253.5L1173.3 1253.5L1167 1283.5Z" style="fill:#000" stroke-width="1.2"/>
<path d="M1108.9 1409.2L1108.9 1324.6" stroke-width="3.9"/>
<path d="M1116.8 1326.6L1110.5 1296.6L1107.3 1296.6L1101 1326.6Z" style="fill:#000" stroke-width="1.2"/>
<path d="M982.8 1499.2L982.8 1446.8" stroke-width="3.9"/>
<path d="M990.7 1448.8L984.4 1418.8L981.2 1418.8L974.9 1448.8Z" style="fill:#000" stroke-width="1.2"/>
<path d="M842.4 1578L842.4 1527.6" stroke-width="3.9"/>
<path d="M850.3 1529.6L844 1499.6L840.8 1499.6L834.5 1529.6Z" style="fill:#000" stroke-width="1.2"/>
<path d="M753.9 1626.5L753.9 1535" stroke-width="3.9"/>
<path d="M761.8 1537L755.5 1507L752.3 1507L746 1537Z" style="fill:#000" stroke-width="1.2"/>
<path d="M682.5 1668.4L682.5 1575.6" stroke-width="3.9"/>
<path d="M690.4 1577.6L684.1 1547.6L680.9 1547.6L674.6 1577.6Z" style="fill:#000" stroke-width="1.2"/>
<path d="M619.6 1704.8L619.6 1616.4" stroke-width="3.9"/>
<path d="M627.5 1618.4L621.2 1588.4L618 1588.4L611.7 1618.4Z" style="fill:#000" stroke-width="1.2"/>
<path d="M2244.6 987.4L2207.1 1024" stroke-width="3.9"/>
<path d="M2203 1017L2186 1042.5L2188.2 1044.7L2214.1 1028.3Z" style="fill:#000" stroke-width="1.2"/>
<path d="M2445.8 999.2L2395.2 1005.6" stroke-width="3.9"/>
<path d="M2396.2 997.5L2367.2 1007.5L2367.6 1010.7L2398.2 1013.2Z" style="fill:#000" stroke-width="1.2"/>
<path d="M2467.2 1129.8L2467.2 1177.6" stroke-width="3.9"/>
<path d="M2459.3 1175.6L2465.6 1205.6L2468.8 1205.6L2475.1 1175.6Z" style="fill:#000" stroke-width="1.2"/>
<path d="M2541.2 1171.1L2541.2 1219.4" stroke-width="3.9"/>
<path d="M2533.3 1217.4L2539.6 1247.4L2542.8 1247.4L2549.1 1217.4Z" style="fill:#000" stroke-width="1.2"/>
<path d="M1707.8 1715.6L1707.8 1626" stroke-width="3.9"/>
<path d="M1715.7 1628L1709.4 1598L1706.2 1598L1699.9 1628Z" style="fill:#000" stroke-width="1.2"/>
</g>
<text class="vt" x="127.8" y="1995.5" font-size="20" textLength="189" lengthAdjust="spacing">Volvo Construction</text>
<text class="vt" x="128.5" y="2020.6" font-size="20" textLength="105" lengthAdjust="spacing">Equipment</text>
<text class="vt" x="128.7" y="2065.9" font-size="37" textLength="144" lengthAdjust="spacing">1005684</text>
</svg>
</body></html>
